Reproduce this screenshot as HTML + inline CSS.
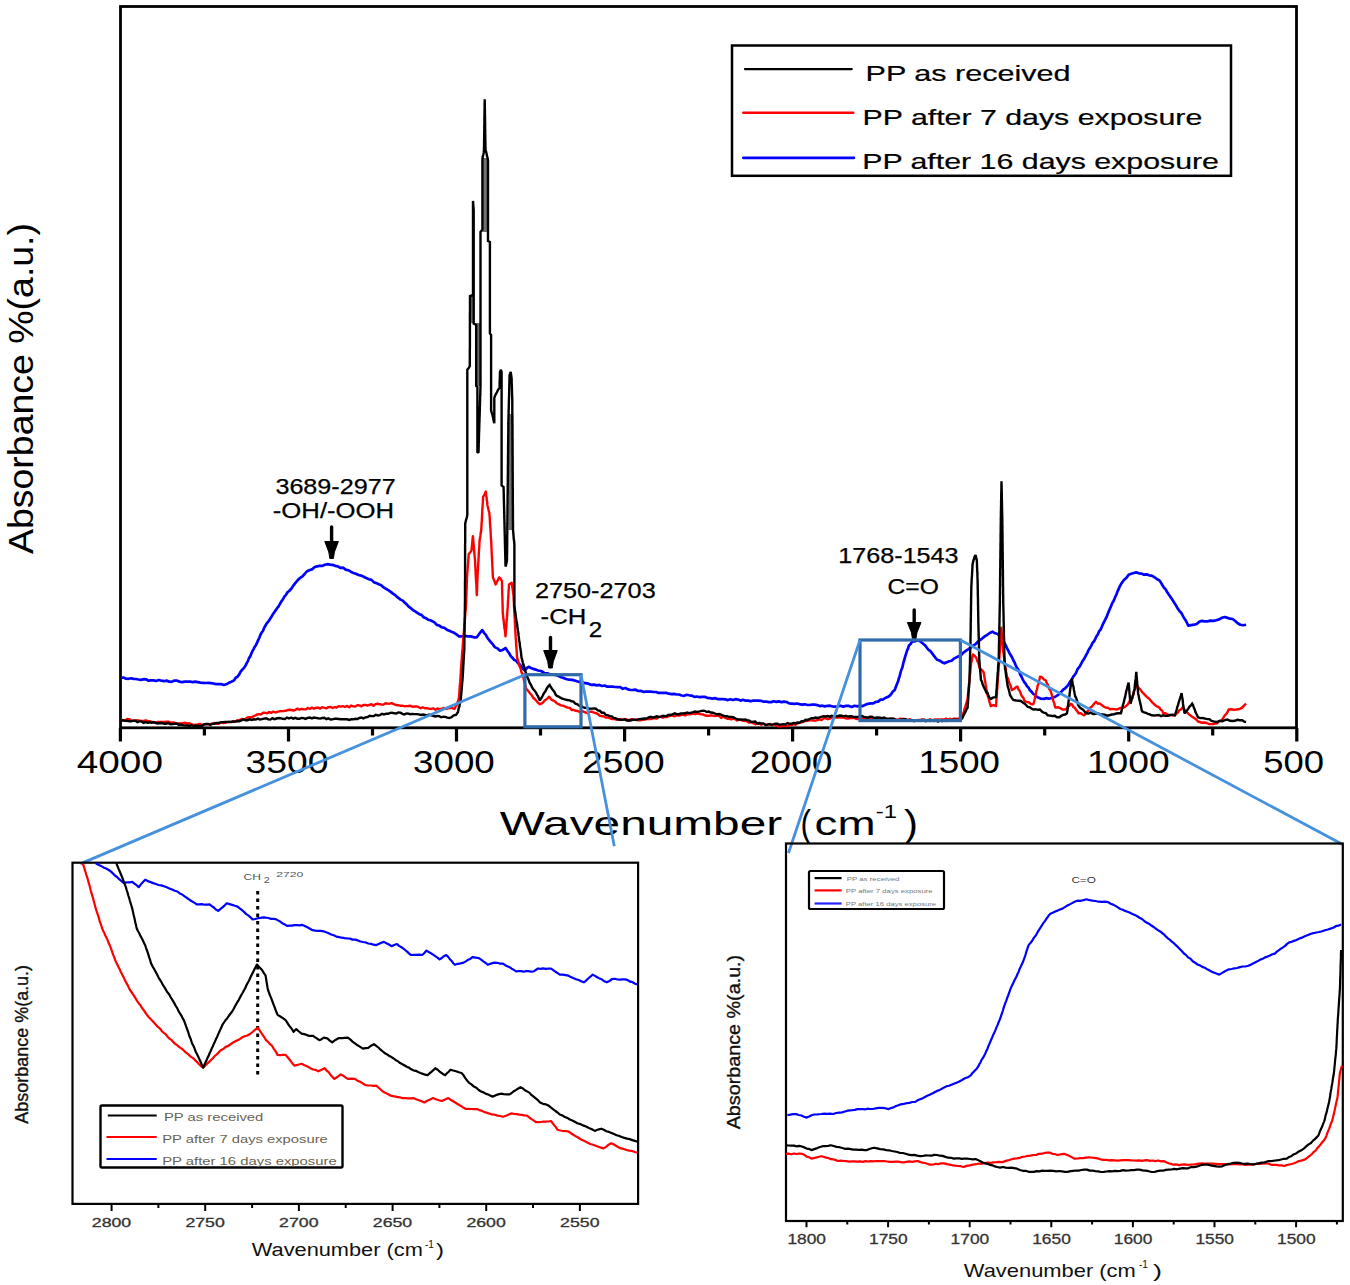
<!DOCTYPE html>
<html><head><meta charset="utf-8"><title>FTIR</title>
<style>
html,body{margin:0;padding:0;background:#fff;width:1350px;height:1285px;overflow:hidden;}
svg{display:block;}
text{font-family:"Liberation Sans",sans-serif;}
</style></head>
<body>
<svg width="1350" height="1285" viewBox="0 0 1350 1285">
<rect x="120.5" y="6.5" width="1176" height="721.3" fill="none" stroke="#000" stroke-width="2.8"/>
<path d="M120.4,728 V741.5 M204.4,728 V735.5 M288.5,728 V741.5 M372.5,728 V735.5 M456.5,728 V741.5 M540.5,728 V735.5 M624.6,728 V741.5 M708.6,728 V735.5 M792.6,728 V741.5 M876.6,728 V735.5 M960.6,728 V741.5 M1044.7,728 V735.5 M1128.7,728 V741.5 M1212.7,728 V735.5 M1296.8,728 V741.5" stroke="#000" stroke-width="3.2" fill="none"/>
<text x="76.7" y="772.8" font-size="30.5" fill="#000" textLength="86.3" lengthAdjust="spacingAndGlyphs">4000</text>
<text x="245.6" y="772.8" font-size="30.5" fill="#000" textLength="82.9" lengthAdjust="spacingAndGlyphs">3500</text>
<text x="413" y="772.8" font-size="30.5" fill="#000" textLength="81.8" lengthAdjust="spacingAndGlyphs">3000</text>
<text x="582" y="772.8" font-size="30.5" fill="#000" textLength="82.8" lengthAdjust="spacingAndGlyphs">2500</text>
<text x="749.8" y="772.8" font-size="30.5" fill="#000" textLength="82.7" lengthAdjust="spacingAndGlyphs">2000</text>
<text x="918.4" y="772.8" font-size="30.5" fill="#000" textLength="81.6" lengthAdjust="spacingAndGlyphs">1500</text>
<text x="1086.9" y="772.8" font-size="30.5" fill="#000" textLength="82.9" lengthAdjust="spacingAndGlyphs">1000</text>
<text x="1263.2" y="772.8" font-size="30.5" fill="#000" textLength="60.9" lengthAdjust="spacingAndGlyphs">500</text>
<text x="499.8" y="834.8" font-size="34" fill="#000" textLength="282.4" lengthAdjust="spacingAndGlyphs">Wavenumber</text>
<text x="800.5" y="836" font-size="36" fill="#000" textLength="10.5" lengthAdjust="spacingAndGlyphs">(</text>
<text x="814.6" y="834.8" font-size="34" fill="#000" textLength="61" lengthAdjust="spacingAndGlyphs">cm</text>
<text x="875.8" y="817.5" font-size="19" fill="#000" textLength="21.2" lengthAdjust="spacingAndGlyphs">-1</text>
<text x="904" y="836" font-size="36" fill="#000" textLength="14" lengthAdjust="spacingAndGlyphs">)</text>
<text transform="translate(32.7,554) rotate(-90)" font-size="35.5" textLength="331" lengthAdjust="spacingAndGlyphs">Absorbance %(a.u.)</text>
<rect x="732" y="45.5" width="499" height="130.3" fill="#fff" stroke="#000" stroke-width="2.5"/>
<path d="M745,69.1 H851.7" stroke="#000" stroke-width="2.3" stroke-linecap="round"/>
<path d="M743.3,112.8 H853.3" stroke="#f00" stroke-width="2.4" stroke-linecap="round"/>
<path d="M743.3,157.8 H853.9" stroke="#00f" stroke-width="2.7" stroke-linecap="round"/>
<text x="865.6" y="80.6" font-size="21.5" fill="#000" textLength="205" lengthAdjust="spacingAndGlyphs" stroke="#000" stroke-width="0.2">PP as received</text>
<text x="862.6" y="124.6" font-size="21.5" fill="#000" textLength="339.7" lengthAdjust="spacingAndGlyphs" stroke="#000" stroke-width="0.2">PP after 7 days exposure</text>
<text x="862.2" y="169.2" font-size="21.5" fill="#000" textLength="356.8" lengthAdjust="spacingAndGlyphs" stroke="#000" stroke-width="0.2">PP after 16 days exposure</text>
<path d="M482.4,158 H488 V232 H482.4 Z M475,323 H481 V386 H475 Z M470.5,296 H473.7 V323 H470.5 Z M508.5,414 H513.4 V530 H508.5 Z" fill="#707070"/>
<path d="M121,677.8 L123.5,677.5 L126,678.7 L128.5,678.8 L131,678.3 L133.5,678.9 L136,679 L138.5,679.5 L141,679.9 L143.5,679.2 L146,679.3 L148.5,680.7 L151,680.4 L153.6,680.4 L156.2,681 L158.8,680 L161.4,680.7 L164,681.2 L166.6,680.6 L169.2,681.7 L171.8,681.8 L174.4,680.6 L177,680.7 L179.6,681.6 L182.2,682.2 L184.8,681.7 L187.4,681.7 L190,681.6 L192.6,682.1 L195.2,681.7 L197.8,682.1 L200.4,682.6 L203,682.8 L205.6,683 L208.2,682.9 L210.8,683.2 L213.4,683.5 L215.9,684.1 L218.5,684.1 L221.1,684 L223.7,685 L226.3,684.3 L228.8,682.8 L231.4,681.7 L234,680.4 L235.7,677.8 L237.5,676.8 L239.2,674.4 L240.9,671.2 L242.7,669.3 L244.4,667.4 L245.6,665.4 L246.7,663.1 L247.9,661.1 L249,658.1 L250.2,656.4 L251.3,653.8 L252.5,651 L253.6,649.1 L254.8,646.7 L256,644.9 L257.1,642.6 L258.3,639.8 L259.4,637.6 L260.6,634.5 L261.7,632.5 L262.9,631 L264,628.2 L265.2,626 L266.7,623.3 L268.2,621.6 L269.7,619.6 L271.1,617.3 L272.6,614.7 L274.1,612.5 L275.6,610.4 L277.1,608.2 L278.6,606.3 L280.1,603.7 L281.5,601.3 L283,599.2 L284.5,596.4 L286,594.8 L287.7,592 L289.4,590.8 L291.1,589 L292.9,586.3 L294.6,583.9 L296.3,581.9 L298.4,579.4 L300.5,577.7 L302.5,576.3 L304.6,574 L306.7,571.5 L309.3,570.3 L311.9,569.4 L314.4,567.2 L317,566.3 L319.6,565.8 L322.2,565.9 L324.8,564.8 L327.4,564.2 L330,564.7 L332.6,564.9 L335.2,565.8 L337.8,566.3 L340.4,567.9 L343,567.6 L345.6,569.6 L348.2,570.2 L350.8,571.7 L353.4,572.9 L355.9,573.8 L358.5,575 L361.1,575.6 L363.7,576.7 L366.3,578.1 L368.9,579.2 L371.5,579.9 L374.1,582.4 L376.7,583.2 L379.3,584.4 L381.5,585.5 L383.7,587.4 L385.9,588.8 L388.2,590.1 L390.4,591.6 L392.6,593.4 L394.8,594.8 L396.8,596.6 L398.7,598.2 L400.6,599.6 L402.6,600.6 L404.6,602.5 L406.5,604.1 L408.4,606.3 L410.4,607.8 L412.6,609.8 L414.8,611.2 L417,612.7 L419.3,614.2 L421.5,614.9 L423.7,617.2 L425.9,618.2 L428.1,619.7 L430.4,620.2 L432.6,621.4 L434.8,622.7 L437,625 L439.3,625.6 L441.5,627.2 L444.3,627.9 L447.2,629.9 L450,631 L452.2,632.1 L454.5,633.1 L456.8,634.6 L459,636.4 L462,636.4 L464.9,635.9 L467.9,636.4 L470.9,636.4 L473.8,637.3 L476.8,637.3 L478.6,634.8 L480.4,632.3 L482.2,630.1 L484,632.8 L485.8,634.8 L487.6,638.2 L489.4,640.3 L491.1,642.5 L492.9,644.4 L494.7,647.1 L497.4,648.4 L500.1,650.7 L502.8,649.9 L505.5,648 L507.3,650.7 L509,653 L510.8,656.1 L512.6,658 L514.4,660.1 L516.2,660.8 L518,663.2 L519.7,664.4 L521.5,666.4 L523.2,669 L524.9,670.5 L526.8,668.2 L528.7,666.8 L531,668 L533.4,668.9 L535.7,669.6 L538,670.5 L541.1,671 L544.3,673 L547.4,673.3 L550.2,674.4 L553,674.7 L555.8,675 L558.6,676.1 L561.1,677.3 L563.5,677.9 L566,679 L569.1,679.7 L572.3,679.9 L575.4,680.8 L578.5,681.8 L581.6,681.8 L584.7,683.2 L587.8,683.4 L590.9,684.8 L594,684.6 L596.7,685.4 L599.3,684.9 L602,686 L604.6,685.5 L607.3,686.7 L609.9,686.7 L612.6,686.7 L615.2,687 L617.7,687.1 L620.3,687.2 L622.8,688.8 L625.4,688 L627.9,689.4 L630.5,690 L633,689.9 L635.6,689.7 L638.1,691 L640.7,690.9 L643.3,691.8 L645.8,691.7 L648.4,691.7 L651,691.7 L653.5,692 L656.1,692 L658.6,692.9 L661.2,692.8 L663.8,692.8 L666.3,692.9 L668.9,693.7 L671.5,694.2 L674,693.9 L676.6,694.5 L679.1,694.5 L681.7,695.5 L684.2,695.8 L686.8,694.8 L689.3,695.3 L691.9,695.7 L694.4,696.9 L697,696.5 L699.6,697.2 L702.1,696.8 L704.7,696.9 L707.3,697.8 L709.8,698.2 L712.4,698.6 L714.9,698.1 L717.5,699.1 L720.1,699.1 L722.6,699 L725.2,699.3 L727.8,700.1 L730.3,699.2 L732.9,700 L735.4,699.2 L738,699.5 L740.5,700.6 L743.1,699.8 L745.6,700.7 L748.2,700.6 L750.7,701.1 L753.3,700.7 L755.9,700.6 L758.4,700.7 L761,700.8 L763.6,701.7 L766.1,701.5 L768.7,702.1 L771.2,702.1 L773.8,701.2 L776.4,701.9 L778.9,701.4 L781.5,702.1 L784.1,701.7 L786.6,702 L789.2,703.4 L791.7,703.6 L794.3,703.9 L796.8,703.5 L799.4,704.1 L801.9,704.6 L804.5,704.3 L807,704.8 L809.6,705 L812.2,704.7 L814.7,704.7 L817.3,705.1 L819.8,706.1 L822.4,705.7 L824.9,706.4 L827.5,705.8 L830,705.7 L832.6,706.5 L835.1,706.7 L837.7,706.4 L840.5,705.7 L843.3,706.6 L846.1,705.8 L849,705.9 L851.8,706.9 L854.6,705.8 L857.4,706.4 L860,705.5 L862.7,706.1 L865.3,704.7 L868,703.8 L870.6,703.4 L873.3,703.3 L875.7,701.9 L878.1,701.6 L880.5,699.6 L882.8,699.7 L885.2,698 L887.6,697.1 L889.4,696 L891.2,694.1 L892.9,691.5 L894.7,690 L895.9,686.7 L897,684 L898.2,681.1 L898.9,678.1 L899.6,676.4 L900.4,673 L901.1,670.5 L901.8,668.7 L902.5,666.9 L903.2,663.4 L903.9,661.3 L904.6,658.6 L905.3,656.2 L906.2,653.3 L907.1,650.3 L908,648.8 L908.9,645.6 L910.6,644 L912.4,641.1 L915.1,641.3 L917.8,640.2 L920.5,641.5 L923.1,643.8 L924.9,645.2 L926.7,647.5 L928.4,649.8 L930.2,650.9 L932,653.2 L933.8,655.6 L935.5,657.8 L937.3,659.8 L939.7,660.6 L942,662.2 L944.4,663.3 L946.8,662.2 L949.2,661.2 L951.6,660.7 L954,658.6 L956.3,657.4 L958.7,656.2 L961.1,655.1 L963.4,652.6 L965.8,650.9 L968.2,649.3 L970.5,647.6 L972.9,645.6 L975.3,644.4 L977.6,641.8 L980,640.2 L982.4,638.2 L984.7,636.4 L987.1,634.9 L989.8,633 L992.4,631.7 L995.1,633.3 L997.8,634 L999.6,636.6 L1001.3,637.9 L1003.1,640.2 L1004.4,642.6 L1005.8,645.6 L1007.1,648.3 L1008.4,650.9 L1009.6,653.4 L1010.8,655.3 L1012,657.3 L1013.2,660 L1014.4,662.1 L1015.6,665.1 L1016.8,667.5 L1018,669.2 L1019.2,671.6 L1020.3,674.8 L1021.5,676.6 L1022.7,679.3 L1024.1,681.8 L1025.5,683.6 L1027,686.2 L1028.4,687.4 L1029.8,690 L1031.6,691.8 L1033.3,694 L1035.1,694.7 L1036.9,697.1 L1040.5,698.6 L1044,698.9 L1046.5,698.1 L1049.1,698.7 L1051.6,698 L1054.2,697.3 L1056.7,695.8 L1059.3,694 L1061.2,691.8 L1063.2,689.6 L1065.1,688.3 L1067,686.4 L1068.5,684.7 L1070.1,681.5 L1071.6,680 L1073.2,676.6 L1074.7,674.8 L1076,673.1 L1077.3,669.6 L1078.6,667.8 L1079.8,666.4 L1081.1,664 L1082.4,661.3 L1083.7,659.6 L1084.9,657.3 L1086.2,654.9 L1087.5,652.6 L1088.7,649.7 L1090,647.9 L1091.3,645.6 L1092.6,642.9 L1093.9,641.5 L1095.2,639.1 L1096.5,636.3 L1097.8,634.4 L1099.1,631.2 L1100.4,629.9 L1101.7,627.1 L1102.9,624.2 L1104.2,621.6 L1105.5,619 L1106.6,617 L1107.7,614 L1108.8,611.4 L1109.9,608.8 L1111,606.2 L1112.1,603.4 L1113.2,601.6 L1114.3,599.3 L1115.4,596.5 L1116.5,594.3 L1117.6,591.1 L1118.7,589 L1119.8,586.3 L1120.9,584.3 L1122.8,581.4 L1124.8,579.2 L1126.7,577.6 L1128.6,574.7 L1131.2,573.8 L1133.7,573 L1136.3,572.4 L1138.9,573.3 L1141.4,573.6 L1144,574.7 L1146.6,574.3 L1149.1,575.3 L1151.7,575.6 L1154.3,577.2 L1156.8,579 L1159.4,580.4 L1160.9,582.6 L1162.5,585.3 L1164,587.7 L1165.6,589.3 L1167.1,592 L1168.6,594.3 L1170.2,596.6 L1171.7,598.6 L1173.3,601.2 L1174.8,603.6 L1176.3,606 L1177.9,608.8 L1179.4,611.1 L1181,612.5 L1182.5,615.1 L1184,618 L1185.4,619.8 L1186.8,622.5 L1188.3,625.7 L1191.2,625.2 L1194.1,624.7 L1196.7,624 L1199.2,621.7 L1201.8,620.9 L1204.7,621.3 L1207.5,621.4 L1210.4,620.6 L1213.3,620.9 L1216.2,620.2 L1219.1,619.4 L1222,617.8 L1224.9,617 L1227.5,617.9 L1230,618.7 L1232.6,619 L1235.2,621 L1237.7,623.3 L1240.3,624.7 L1243.2,625.3 L1246.1,624.7" fill="none" stroke="#00f" stroke-width="2.7" stroke-linejoin="round"/>
<path d="M121,719.3 L123.1,720.3 L125.1,720.4 L127.2,718.9 L129.2,719.1 L131.3,720.6 L133.3,720.6 L135.4,720.6 L137.4,720.1 L139.5,720.8 L141.5,720.9 L143.6,721 L145.6,720.4 L147.7,721 L149.7,721.1 L151.8,721.8 L153.8,722.5 L155.9,722.5 L157.9,721.9 L160,722 L162.1,722 L164.2,721.9 L166.3,721.6 L168.4,721.7 L170.5,722.6 L172.6,722.5 L174.7,722.8 L176.8,723.8 L178.9,723.3 L181,723.5 L183.1,723.1 L185.2,722.8 L187.3,723.5 L189.4,723.3 L191.5,724.1 L193.6,725.1 L195.7,724.7 L197.8,724.5 L199.9,723.8 L202,724.9 L204.1,724.5 L206.2,724.3 L208.3,724.4 L210.4,724 L212.5,723.9 L214.7,722.9 L216.8,723.9 L218.9,723.7 L221,722.1 L223.1,723 L225.2,722.8 L227.3,722.2 L229.4,722.1 L231.5,721.9 L233.5,721.3 L235.5,721.6 L237.4,720.3 L239.4,720.4 L241.4,719 L243.4,719.4 L245.4,718.9 L247.4,717.5 L249.3,717.2 L251.3,717.3 L253.3,716.4 L255.3,715.5 L257.3,714.4 L259.3,714.1 L261.2,714.2 L263.2,712.7 L265.2,712.8 L267.2,713.3 L269.2,711.9 L271.2,712.9 L273.3,711.6 L275.3,712.5 L277.3,711.9 L279.3,711.3 L281.3,711.1 L283.4,711.1 L285.4,710.8 L287.4,710.1 L289.4,709.7 L291.4,710 L293.4,710.5 L295.4,709.8 L297.5,708.6 L299.5,709.7 L301.5,708.9 L303.6,709.2 L305.6,709.4 L307.7,708 L309.8,708.9 L311.9,707.6 L313.9,708.6 L316,707.8 L318.1,707.6 L320.1,708.6 L322.2,707.2 L324.3,707.8 L326.4,708.3 L328.4,707.1 L330.5,706.9 L332.6,708 L334.7,707.1 L336.7,707.5 L338.8,706.2 L340.9,706.7 L342.9,706.2 L345,707 L347.1,705.9 L349.2,707.3 L351.2,705.5 L353.3,706.3 L355.3,706.6 L357.3,705.1 L359.4,705.4 L361.4,706.3 L363.4,705 L365.4,704.9 L367.4,705.6 L369.4,704.9 L371.5,704.2 L373.5,705.7 L375.5,704.1 L377.5,703.7 L379.5,704.1 L381.5,704.5 L383.6,704.6 L385.6,703.3 L387.6,703.6 L389.6,703.7 L391.7,703.1 L393.8,704.1 L395.8,705 L397.9,705.2 L400,705.7 L402.1,705.7 L404.1,706.2 L406.2,706.1 L408.3,706 L410.4,705.8 L412.4,706.8 L414.5,706.5 L416.6,706.4 L418.7,707.2 L420.7,708.3 L422.8,707.2 L424.9,708.3 L427,708.2 L429,708.7 L431.1,708.9 L433.2,708.3 L435.4,709.7 L437.5,708.5 L439.6,709.1 L441.7,708.8 L443.9,708 L446,709 L448.1,708.3 L450.2,708.1 L452.4,708.1 L454.5,708.9 L455.8,706.3 L457,705 L457.5,702.3 L458,701.3 L458.5,699.2 L459,697.2 L459.1,696.1 L459.3,694 L459.4,692.1 L459.6,688.7 L459.7,687.1 L459.9,684.7 L460,683.3 L460.2,681.4 L460.3,679.7 L460.5,677.5 L460.6,674.7 L460.8,673 L460.9,671.1 L461,668.2 L461.2,666.2 L461.3,664.9 L461.5,662.4 L461.6,661.5 L461.8,658.6 L461.9,656.3 L462.1,654.5 L462.2,652.5 L462.4,650.5 L462.5,649 L462.7,647 L462.8,644.9 L463,642.5 L463.2,641.1 L463.3,638.3 L463.5,637.5 L463.6,635.6 L463.8,633.1 L464,630.6 L464.1,628.7 L464.3,626.7 L464.5,623.8 L464.6,622.4 L464.8,620.5 L465,617.9 L465.1,615.7 L465.3,614.9 L465.4,612.1 L465.6,610.3 L465.8,609 L465.9,606.4 L466.1,604.2 L466.2,601.8 L466.2,600.9 L466.3,597.8 L466.4,595.1 L466.4,594.2 L466.5,591.1 L466.6,589.4 L466.7,588.3 L466.7,586 L466.8,582.7 L466.9,581.4 L466.9,579.3 L467,577.4 L467.2,575.2 L467.3,572.6 L467.5,571.2 L467.7,568.1 L467.8,566.4 L468,564.4 L468.1,563.3 L468.3,559.6 L468.5,558.7 L468.6,555.6 L468.8,554 L470.1,552.4 L471.5,550.5 L471.7,548.3 L471.9,546.3 L472.1,544.8 L472.3,542.1 L472.5,539.6 L472.7,537.6 L472.9,536.2 L473.1,537.6 L473.3,541.1 L473.5,542.8 L473.7,545.5 L473.9,547.1 L474,548.1 L474.2,551.3 L474.4,553.6 L474.6,555.7 L474.8,557.4 L475,559.5 L475.1,561.3 L475.2,563.6 L475.3,566.3 L475.4,567.5 L475.5,570 L475.6,572.1 L475.7,575 L475.8,576.8 L476,579.2 L476.1,581.1 L476.2,582.2 L476.3,584.2 L476.4,586.8 L476.5,588.5 L476.6,590.9 L476.7,593.4 L476.8,595.2 L476.9,593.8 L477,591.1 L477.1,589.4 L477.2,585.9 L477.2,584.2 L477.3,583.3 L477.4,579.6 L477.5,577.9 L477.6,575.2 L477.7,573.8 L477.8,571 L477.9,570.5 L478,568.6 L478.1,566 L478.3,563.1 L478.4,561.4 L478.5,559.2 L478.6,558 L478.7,556 L478.8,553.6 L478.9,551.7 L479.1,549 L479.2,547.7 L479.3,546.4 L479.4,544.1 L479.5,541.6 L479.8,538.8 L480.1,537.4 L480.4,535.7 L480.7,532.8 L481,531.8 L481.3,529 L481.4,526.9 L481.5,525.3 L481.6,522.8 L481.8,521.8 L481.9,519.4 L482,517.1 L482.1,514.3 L482.2,512.8 L482.3,510 L482.4,509 L482.5,507.5 L482.7,504.3 L482.8,502.9 L482.9,500.8 L483,498.6 L483.1,496.8 L484.5,494.5 L485.8,491.5 L486.1,494.3 L486.3,496 L486.6,497.6 L486.8,500.5 L487.1,501.4 L487.3,504.2 L487.6,505.8 L488.2,508.5 L488.8,511.1 L489.4,513 L489.5,515.7 L489.7,516.6 L489.8,519.3 L489.9,521 L490,523.5 L490.2,526.1 L490.3,527.5 L490.4,528.5 L490.6,531.3 L490.7,533.8 L490.8,536.2 L490.9,537.8 L491.1,540.1 L491.2,541.6 L491.3,542.8 L491.4,546.6 L491.5,548.3 L491.6,550.2 L491.7,552.9 L491.8,554.9 L491.9,555.6 L492,559 L492.1,561 L492.2,562.1 L492.3,565.2 L492.4,567 L492.5,568.4 L492.6,571.6 L492.7,572.5 L492.8,575.5 L492.9,577.4 L493.8,579.6 L494.7,581.7 L495.6,584.5 L496.8,582.3 L498,579.7 L499.2,577.4 L500.5,578.7 L501.9,581 L502,583.8 L502,584.2 L502.1,586.1 L502.1,589 L502.2,591.6 L502.2,593.3 L502.3,595.5 L502.4,597 L502.4,599.4 L502.5,600.8 L502.5,602.6 L502.6,605.1 L502.6,606.2 L502.7,608.3 L502.7,611.6 L502.8,613.1 L503,614.6 L503.3,617.8 L503.5,620 L503.8,621.4 L504,624 L504.3,626.3 L504.5,628.6 L504.8,629.4 L505,631.6 L505.3,634.1 L505.5,636.4 L505.7,634.2 L505.8,631.8 L506,629.2 L506.2,628 L506.3,626.6 L506.5,623.5 L506.6,621.6 L506.8,619.2 L507,617.2 L507.1,615.9 L507.3,613.1 L507.4,610.7 L507.5,609.3 L507.7,606.9 L507.8,605 L507.9,603.6 L508,600.1 L508.1,599.4 L508.3,596.4 L508.4,595 L508.5,593.2 L508.6,590.9 L508.8,588.4 L508.9,587.2 L509,584.5 L511.7,582.7 L512,584.1 L512.3,587.1 L512.6,588.8 L512.9,591.1 L513.2,593.7 L513.5,595.2 L513.6,597.8 L513.7,599.6 L513.8,601.2 L513.9,603.1 L514,605.7 L514.1,607.4 L514.2,609.5 L514.3,612.9 L514.5,613.5 L514.6,616.8 L514.7,618.1 L514.8,620.2 L514.9,622.2 L515,623.9 L515.1,626.7 L515.2,628.3 L515.3,631 L515.4,633 L515.6,634.8 L515.7,637.9 L515.9,640 L516,641.2 L516.1,643.7 L516.3,646.3 L516.4,647.2 L516.5,648.9 L516.7,651.2 L516.8,653.2 L517,656.2 L517.1,657.9 L517.8,659.9 L518.5,662.1 L519.1,665.1 L519.8,666.8 L520.6,668.6 L521.4,672 L522.2,673.9 L523,676 L523.5,678 L524.1,680.8 L524.6,682.1 L525.2,685.2 L525.8,687.4 L526.3,688.8 L528,690.8 L529.8,693.1 L531.5,694.8 L533,697.5 L534.6,699 L536.1,700.4 L538,702.8 L539.9,704.2 L541.5,703.6 L543,702.5 L544.6,700.4 L546.9,699 L549.2,696.7 L551.1,699.4 L553,700.4 L554.9,701.3 L556.7,703.2 L558.6,704.2 L561.1,705.4 L563.5,705.8 L566,707 L567.9,707.6 L569.8,707.9 L571.6,710 L573.5,709.7 L575.4,710.7 L577.7,711 L580,712.1 L582.4,711.2 L584.7,712.1 L587,713.1 L589.4,711.7 L591.7,711.6 L594,712.6 L595.9,713.1 L597.8,713.8 L599.6,715.6 L601.5,716.2 L603.4,716.3 L605.7,717.5 L608,717.6 L610.4,718.5 L612.7,719.1 L614.7,718.7 L616.7,719.9 L618.7,719.2 L620.7,719.1 L622.7,719.8 L624.7,719 L626.7,719.4 L628.7,720.6 L630.7,719.2 L632.7,719.4 L634.7,719.6 L636.7,719.8 L638.7,720.2 L640.7,720.4 L642.7,719.7 L644.7,719.5 L646.7,719 L648.8,718.7 L650.8,719.1 L652.8,718.3 L654.8,718.1 L656.8,718.5 L658.8,716.9 L660.8,716.8 L662.9,717.7 L664.9,716.7 L666.9,717 L668.9,716.2 L670.9,715.3 L672.9,715.8 L674.9,716.2 L676.9,715.1 L678.9,715.7 L680.9,715.2 L683,714.6 L685,715.5 L687,714.2 L689,714.2 L691,714.2 L693,713.5 L695,714.2 L697,713.4 L699,713.9 L701,714.2 L703,714.4 L705.1,715.5 L707.1,715.8 L709.1,715.8 L711.1,715.4 L713.1,715.6 L715.1,716.1 L717.1,715.6 L719.2,716 L721.2,717.9 L723.2,716.6 L725.2,717.6 L727.2,718.8 L729.2,718.7 L731.2,719.5 L733.2,718.4 L735.2,719.3 L737.2,720.5 L739.2,719.5 L741.3,720.1 L743.3,720.9 L745.3,721 L747.3,721.4 L749.3,722.7 L751.3,722.1 L753.3,723.2 L755.3,724.2 L757.3,723.9 L759.3,723 L761.4,724.7 L763.4,723.7 L765.4,724.4 L767.4,724.7 L769.4,724.1 L771.4,725 L773.4,724.4 L775.5,724.9 L777.5,726.4 L779.5,726.4 L781.5,726 L783.5,725.9 L785.5,726 L787.5,726.1 L789.5,724.6 L791.5,725.1 L793.5,724.2 L795.5,724.7 L797.5,723.4 L799.5,722.8 L801.5,722.3 L803.6,721.4 L805.6,721.1 L807.6,720.8 L809.6,720.4 L811.6,720.4 L813.6,720.6 L815.6,720.5 L817.6,720 L819.6,719.4 L821.6,720 L823.7,718.4 L825.7,718.1 L827.7,719.2 L829.7,718.6 L831.7,717.7 L833.7,717.8 L835.7,717.4 L837.7,717.6 L839.7,717.5 L841.7,717.6 L843.7,717.6 L845.8,718.4 L847.8,718.5 L849.8,718.1 L851.8,718 L853.8,717.7 L855.8,718.7 L857.8,719.1 L859.9,717.8 L861.9,718.8 L863.9,718.8 L865.9,718.8 L867.9,717.8 L869.9,718.8 L871.9,718.2 L874,718.2 L876,719 L878,719.2 L880,719 L882,719.3 L884,719.5 L886,719.5 L888,719.2 L890,718.4 L892,719.8 L894,719.9 L896,720 L898,719.6 L900,718.7 L902,719 L904,718.9 L906,719.9 L908,719.8 L910,719.2 L912,720.6 L914,720.7 L916,720.6 L918,719.9 L920,720 L922,719.6 L924,719.4 L926,720.4 L928,720.2 L930,719.3 L932,720.4 L934,719.8 L936,719.4 L938,719.4 L940,719.9 L942,719.3 L944,719.7 L946,718.6 L948,719.6 L950,718.8 L952,719.9 L954,718.6 L956,718.8 L958,719 L960.1,717.9 L962.2,716.7 L962.8,714.5 L963.4,712.8 L964,711.5 L964.6,708.3 L965.2,707.3 L965.8,705.2 L966.4,703.4 L967,700.8 L967.6,698.9 L967.8,696.7 L968,694.4 L968.2,692.6 L968.4,690.1 L968.6,687.9 L968.8,686.3 L969,683.7 L969.2,682.1 L969.5,680.2 L969.7,677.6 L969.9,675.3 L970.1,674 L970.3,672.3 L970.5,669.1 L970.7,667.7 L970.9,665.7 L971.1,663.3 L971.5,661.8 L972,659.2 L972.5,656.3 L972.9,654.4 L974.6,655.7 L976.4,658 L977.1,660.7 L977.8,661.9 L978.6,663.5 L979.3,667.2 L980,668.7 L981.8,669.9 L983.6,672.2 L984,674 L984.3,676.2 L984.6,678.2 L985,681.2 L985.4,682.6 L985.7,684.9 L986.1,687 L986.4,689.9 L986.8,690.6 L987.1,693.6 L987.7,695.8 L988.3,697.1 L988.9,699.2 L989.5,702.1 L990.1,703.7 L990.7,706 L993.4,705.2 L996,706 L996.1,704.1 L996.3,702.6 L996.4,700.1 L996.6,697.7 L996.7,696.2 L996.9,694.4 L997,690.9 L997.2,689.1 L997.3,688.3 L997.4,686.1 L997.6,682.8 L997.7,681.6 L997.9,679.8 L998,677.3 L998.2,675.4 L998.3,673 L998.4,670.4 L998.6,668.3 L998.7,666 L998.9,665 L999,662 L999.2,660.8 L999.3,658.3 L999.5,656.3 L999.6,654.4 L999.7,653.2 L999.9,650.1 L1000,648.2 L1000.1,646 L1000.3,643.7 L1000.4,641.6 L1000.5,640.1 L1000.6,638.6 L1000.8,635.2 L1000.9,634.7 L1001,632.2 L1001.2,629 L1001.3,627.8 L1001.5,630.3 L1001.6,631.8 L1001.8,634.1 L1002,635.5 L1002.1,638.3 L1002.3,640.4 L1002.4,643 L1002.6,644.7 L1002.8,647.1 L1002.9,649.2 L1003.1,650.9 L1003.4,652.5 L1003.7,654.2 L1004,657.1 L1004.3,658.5 L1004.6,660.6 L1004.9,663 L1005.2,665.5 L1005.5,667.7 L1005.8,669.8 L1006.1,672.4 L1006.4,673 L1006.7,675.8 L1007.5,677.9 L1008.2,679.1 L1009,682.2 L1009.7,683.8 L1010.5,685.3 L1011.2,687.6 L1012,690 L1013.8,689.1 L1015.5,687.6 L1017.3,686.4 L1018.3,689.2 L1019.3,690.2 L1020.3,692.2 L1021.4,695.3 L1022.4,696.8 L1023.4,697.9 L1024.4,700.7 L1026.6,702.1 L1028.8,702.2 L1031.1,704.1 L1033.3,704.2 L1033.8,702.5 L1034.3,700.8 L1034.7,699 L1035.2,696.4 L1035.7,695.2 L1036.2,691.6 L1036.7,690.2 L1037.1,689.1 L1037.6,685.6 L1038.1,684.9 L1038.6,683.5 L1039,681 L1039.5,679.3 L1040,676.7 L1041.9,677.2 L1043.9,679.4 L1045.8,680.6 L1046.6,682.7 L1047.5,684.3 L1048.3,686.2 L1049.1,688.8 L1049.9,689.6 L1050.8,691.3 L1051.6,694 L1052.1,696.1 L1052.7,698.7 L1053.2,700.4 L1053.8,702.1 L1054.3,703.3 L1054.9,706.4 L1055.4,707.6 L1057.8,707.2 L1060.2,708.1 L1062.6,709.5 L1065,709.5 L1066.5,708.8 L1067.9,706.4 L1069.3,705.9 L1070.8,703.7 L1072.1,704.6 L1073.4,707.1 L1074.7,707.7 L1075.9,709.6 L1077.2,711.1 L1078.5,713.3 L1080.4,713.1 L1082.4,714.5 L1084.3,715.3 L1085.8,713.6 L1087.2,711.5 L1088.7,710.5 L1090.1,707.7 L1091.5,706.9 L1093,705.2 L1094.5,703.3 L1095.9,701.8 L1097.8,703.7 L1099.7,703.4 L1101.7,705.1 L1103.6,706.4 L1105.5,707.6 L1107.8,707.8 L1110.1,709.2 L1112.4,708.9 L1114.7,709.1 L1117,709.5 L1118.9,708.6 L1120.9,707.8 L1122.8,708 L1124.8,706.9 L1126.7,705.6 L1128.1,703.9 L1129.6,701.1 L1131,700 L1132.4,697.9 L1133.1,695 L1133.7,693.2 L1134.3,690.3 L1135,689.3 L1135.7,687.6 L1136.3,684.5 L1137.8,686.7 L1139.2,688.5 L1140.6,689.8 L1142.1,692.2 L1143.7,693.7 L1145.3,695.3 L1146.9,696.9 L1148.5,698.2 L1150.1,699.7 L1151.7,701.8 L1153.6,703.7 L1155.6,705.5 L1157.5,706.7 L1159.4,707.6 L1160.7,709.7 L1162,710.6 L1163.3,713.3 L1165.6,713.3 L1167.9,714.7 L1170.2,715.4 L1172.5,715 L1174.8,715.3 L1176.3,713.9 L1177.9,712.6 L1179.4,710.2 L1181,709.5 L1182.5,707.6 L1184,708.9 L1185.6,711.3 L1187.1,712.2 L1188.7,714.1 L1190.2,715.3 L1192.1,716.7 L1194.1,718 L1196,719.2 L1198,721.5 L1199.9,722 L1202.1,722.8 L1204.4,722.5 L1206.6,723 L1208.8,724 L1211.1,724.1 L1213.3,724 L1215.2,723.5 L1217.2,723.3 L1219.1,721.1 L1221,721 L1222.3,719.3 L1223.6,717.4 L1224.8,715.2 L1226.1,714.2 L1227.4,712.3 L1228.7,709.5 L1231.3,709.3 L1233.9,709.7 L1236.5,709.5 L1238.4,709.3 L1240.3,708.6 L1242.2,707.6 L1244.2,705.4 L1246.1,703.7" fill="none" stroke="#f00" stroke-width="2.4" stroke-linejoin="round"/>
<path d="M121,720.6 L123.1,720.3 L125.1,720.9 L127.2,720.8 L129.2,721.3 L131.3,721.4 L133.3,720.7 L135.4,720.7 L137.4,722.2 L139.5,721.4 L141.5,721.4 L143.6,722.8 L145.6,722.1 L147.7,722.8 L149.7,722.3 L151.8,722.7 L153.8,722.1 L155.9,723 L157.9,723.5 L160,723 L162.1,723.2 L164.2,723.7 L166.3,723.7 L168.4,722.9 L170.5,724.2 L172.6,724.1 L174.7,723.8 L176.8,723.5 L178.9,725 L181,724.5 L183.1,725.1 L185.2,725.5 L187.3,725.4 L189.4,725.9 L191.5,725.2 L193.6,726 L195.7,725.6 L197.8,725.8 L199.9,726.2 L202,725.8 L204.1,724.3 L206.2,724 L208.3,723.9 L210.4,724.8 L212.4,723.7 L214.5,723.7 L216.6,722.9 L218.7,722.9 L220.8,722.4 L222.9,722.1 L225,722 L227.1,721.9 L229.1,721.7 L231.2,722 L233.2,721.4 L235.2,721.6 L237.3,721.2 L239.3,721.2 L241.4,720.5 L243.4,719.4 L245.5,720.3 L247.5,720.3 L249.6,719.3 L251.7,719.9 L253.8,719.3 L255.8,719.5 L257.9,718.6 L260,719.6 L262.1,719.1 L264.1,718.6 L266.2,718.2 L268.3,719.4 L270.4,719.6 L272.4,718.1 L274.5,719.2 L276.6,718.5 L278.7,718 L280.7,718.2 L282.8,718.9 L284.9,719 L287,717.6 L289,718.5 L291.1,717.5 L293.2,718.6 L295.3,717.9 L297.3,718.7 L299.4,718.8 L301.5,718 L303.6,718.1 L305.6,718.9 L307.7,717.9 L309.8,717.5 L311.9,718.4 L313.9,717.6 L316,717.9 L318.1,718.3 L320.1,718.6 L322.2,718 L324.3,717.8 L326.4,719.2 L328.4,718.4 L330.5,719.5 L332.6,719.4 L334.7,718.6 L336.7,718.8 L338.8,719 L340.9,719.2 L342.9,719.2 L345,719.2 L347.1,719.3 L349.2,719.9 L351.2,719.3 L353.3,719.3 L355.3,718.8 L357.4,719 L359.4,717.9 L361.5,717.6 L363.5,718.4 L365.6,717.3 L367.6,717 L369.7,715.8 L371.7,716.1 L373.8,716 L375.8,714.8 L377.9,715.4 L379.9,715.1 L382,713.8 L384,714.4 L386.1,713.8 L388.1,713.8 L390.2,712.9 L392.2,712.8 L394.2,713.3 L396.3,713.5 L398.3,712.4 L400.4,712.6 L402.4,713.8 L404.5,714.4 L406.5,713.4 L408.6,713.8 L410.6,714.2 L412.7,713.9 L414.7,714.1 L416.8,714.1 L418.8,714.4 L420.9,714.9 L422.9,714.5 L425,714.8 L427,715.6 L429.1,714.5 L431.1,715.4 L433.1,715.8 L435.1,716.4 L437.2,716 L439.2,716.1 L441.2,717.3 L443.2,716.7 L445.3,716.9 L447.3,717.6 L449.3,718 L451.5,717.3 L453.8,715.4 L456,715 L458,712 L458.4,709.7 L458.9,707.7 L459.4,706.5 L459.8,703.9 L460.2,702.6 L460.7,700 L460.9,697.5 L461.1,695.7 L461.2,694.2 L461.4,692.6 L461.6,689.9 L461.8,687.6 L462,685.4 L462.1,684 L462.3,681.5 L462.5,680 L462.6,678.4 L462.7,676.4 L462.9,673.3 L463,671.4 L463.1,670.2 L463.2,667.8 L463.3,666 L463.5,663.2 L463.6,660.8 L463.7,659 L463.8,657.7 L463.9,654.8 L464.1,652.9 L464.2,650.9 L464.3,649 L464.3,646.8 L464.4,644.8 L464.4,643.5 L464.4,640.3 L464.4,638 L464.5,637.5 L464.5,635.3 L464.5,633.4 L464.6,630.5 L464.6,629.3 L464.6,627.2 L464.6,624.1 L464.7,622.9 L464.7,621 L464.7,618.6 L464.8,616.4 L464.8,614 L464.8,612 L464.9,609.8 L464.9,607.5 L464.9,606.3 L464.9,603.7 L465,602.5 L465,600 L465,597.3 L465,596.6 L465,594.3 L465,592.6 L465,590.6 L465,588.6 L465,586.1 L465,583.2 L465,582.3 L465.1,579.4 L465.1,577.6 L465.1,576.2 L465.1,573.9 L465.1,571.8 L465.1,570.6 L465.1,568.1 L465.1,565.6 L465.1,563.5 L465.1,562.4 L465.1,559.8 L465.1,558.3 L465.1,555.6 L465.1,553.3 L465.1,551.9 L465.1,550.3 L465.1,547.3 L465.1,546.3 L465.1,544.5 L465.2,542.3 L465.2,540.3 L465.2,537 L465.2,536 L465.2,534.3 L465.2,531 L465.2,529.4 L465.2,527.3 L465.2,525.8 L465.2,523.7 L465.7,521.4 L466.2,519.3 L466.8,517.6 L467.3,515 L467.3,512.2 L467.3,510.3 L467.3,508.4 L467.3,506.3 L467.3,504.2 L467.3,503.7 L467.3,501.5 L467.3,498.2 L467.3,496.9 L467.3,494.5 L467.3,492.5 L467.3,490.6 L467.3,489 L467.3,486.9 L467.3,484.5 L467.3,482.2 L467.3,480.4 L467.3,478.1 L467.3,476.8 L467.3,475 L467.3,472.5 L467.3,470 L467.3,468.1 L467.3,466.4 L467.3,464.8 L467.3,463 L467.3,460.4 L467.3,459 L467.3,456.7 L467.3,454.4 L467.3,452.3 L467.3,450.5 L467.3,448.8 L467.3,446.3 L467.3,444.7 L467.3,442.3 L467.3,440 L467.3,438.4 L467.3,436.7 L467.3,433.6 L467.3,432.2 L467.3,430.2 L467.3,428.9 L467.3,427 L467.3,424 L467.3,422.9 L467.3,420.7 L467.3,417.8 L467.3,416.1 L467.3,413.6 L467.3,412.7 L467.3,410.4 L467.3,408.7 L467.3,406.6 L467.3,404.4 L467.3,402.4 L467.3,400.2 L467.3,397.4 L467.3,396.2 L467.3,393.2 L467.3,391.4 L467.3,390.4 L467.3,387.2 L467.3,385.3 L467.3,383.3 L467.3,382.5 L467.3,379.4 L467.3,377.1 L467.3,376.4 L467.3,373.2 L467.3,372.4 L467.3,369.8 L468.6,368.2 L469.8,366 L469.8,364.5 L469.8,362.7 L469.8,360.1 L469.8,358.5 L469.8,355.3 L469.8,354.4 L469.8,352 L469.8,350.3 L469.9,347.4 L469.9,346.4 L469.9,344.7 L469.9,341.3 L469.9,339.7 L469.9,338.1 L469.9,336.5 L469.9,333.6 L469.9,331.5 L469.9,329.6 L469.9,328.2 L469.9,326.4 L469.9,323.8 L469.9,321.8 L469.9,319.8 L469.9,317.8 L469.9,315.9 L469.9,313.3 L470,312 L470,310.8 L470,307.9 L470,306.4 L470,303.5 L470,302.3 L470,300.4 L470,298.3 L470,296 L473,294.8 L473,292.8 L473,290.7 L473,288.9 L473,287.3 L473,284 L473,281.9 L473,280.9 L473,279.1 L473,276.5 L473,274.3 L473,272.7 L473,269.8 L473,267.9 L473,265.7 L473,264.3 L473,261.8 L473,259.7 L473,258.4 L473,256.7 L473,253.6 L473,252.3 L473,249.8 L473,248.4 L473,245.9 L473,243.4 L473,241.3 L473,238.9 L473,237.6 L473,235.4 L473,233 L473,231.3 L473,229.2 L473,227.9 L473,224.8 L473,224.1 L473,221.3 L473,219.4 L473,217.2 L473,215.7 L473,213.7 L473,211.2 L473,209 L473,207.4 L473,205.6 L473,202.8 L473,200.9 L473.2,203.5 L473.4,206.2 L473.5,207.7 L473.7,210 L473.7,211.6 L473.7,213.6 L473.7,216.4 L473.7,218.4 L473.7,220.9 L473.7,222.7 L473.7,223.8 L473.7,225.7 L473.7,227.9 L473.7,229.8 L473.7,232.6 L473.7,234.9 L473.7,237 L473.7,238 L473.7,241 L473.7,242.1 L473.7,244.3 L473.7,246.8 L473.7,247.8 L473.7,249.9 L473.7,253.1 L473.7,254.3 L473.7,256.4 L473.7,258.8 L473.7,261 L473.7,261.9 L473.7,264.5 L473.7,266.6 L473.7,268.8 L473.7,270.3 L473.7,273 L473.7,275.6 L473.7,276.7 L473.7,279 L473.7,280.3 L473.7,282.6 L473.7,285.3 L473.7,286.4 L473.7,289.7 L473.7,291.7 L473.7,292.5 L473.7,295.8 L473.7,297 L473.7,299.6 L473.7,301.6 L473.7,302.9 L473.7,305.5 L473.7,307.5 L473.7,309.8 L473.7,311 L473.7,313.8 L473.7,316.1 L473.7,317.7 L473.7,319.5 L473.7,320.9 L473.7,323.5 L476.2,325 L476.2,327 L476.2,328.8 L476.2,331.4 L476.2,333.4 L476.2,335.3 L476.2,336.7 L476.2,339.5 L476.2,341.5 L476.2,342.8 L476.2,346 L476.2,347.6 L476.2,348.8 L476.2,352.1 L476.2,352.9 L476.2,355.2 L476.2,357.9 L476.2,359.7 L476.2,361.7 L476.2,363.9 L476.2,365.6 L476.2,367.4 L476.2,369.2 L476.2,371.1 L476.2,374.1 L476.2,376.2 L476.2,377.9 L476.2,380.3 L476.2,381.7 L476.2,383.6 L476.2,386 L477.4,387 L477.4,388.9 L477.4,391.7 L477.4,392.4 L477.4,395.2 L477.4,396.9 L477.4,399.7 L477.4,401.1 L477.4,403.2 L477.4,405.3 L477.4,407.6 L477.4,410 L477.4,411.4 L477.4,414.2 L477.4,415.1 L477.4,417.4 L477.4,419.2 L477.4,421.3 L477.4,424.4 L477.4,426.4 L477.4,427.6 L477.4,429.6 L477.4,432 L477.4,434.6 L477.4,436.8 L477.4,438.7 L477.4,440.5 L477.4,441.9 L477.4,444.3 L477.4,446.1 L477.4,448.6 L477.4,450.8 L477.4,452.7 L478.5,452 L478.6,449.5 L478.6,447.6 L478.7,446.5 L478.7,443.2 L478.8,442.5 L478.9,440.6 L478.9,438.7 L479,435.8 L479,434.1 L479.1,432.1 L479.2,430.2 L479.2,428.8 L479.3,426.3 L479.3,423.7 L479.4,422.6 L479.5,420 L479.5,418.2 L479.6,416.4 L479.7,413.2 L479.7,412.4 L479.8,410.3 L479.8,408 L479.9,406 L480,403.9 L480,401.5 L480.1,400 L480.1,397.3 L480.2,396 L480.3,394.2 L480.3,391.9 L480.4,390.1 L480.4,388.7 L480.5,386 L480.5,384.6 L480.5,381.4 L480.5,380.5 L480.5,378.2 L480.5,375.3 L480.5,373.8 L480.5,371.6 L480.5,369.3 L480.5,368.1 L480.5,366.7 L480.5,363.7 L480.5,362.6 L480.5,360.3 L480.5,357.4 L480.5,356.6 L480.5,354.2 L480.5,352.7 L480.5,350.3 L480.5,348.4 L480.5,345.7 L480.5,344.5 L480.5,342.7 L480.5,340.6 L480.5,337.9 L480.5,336.4 L480.5,334 L480.5,331.4 L480.5,329.3 L480.5,327.3 L480.5,325.5 L480.5,323.5 L480.5,322 L480.5,320.3 L480.5,318.1 L480.5,315.9 L480.5,314.2 L480.5,311.7 L480.5,309.9 L480.5,308.4 L480.5,305.8 L480.5,303.5 L480.5,302.6 L480.5,300.4 L480.5,297.8 L480.5,295.8 L480.5,294 L480.5,292.2 L480.5,289.6 L480.5,287.2 L480.5,285.5 L480.5,284.5 L480.5,281.4 L480.5,279.9 L480.5,277.5 L480.5,275.5 L480.5,273.5 L480.5,271.8 L480.5,269.5 L480.5,267.2 L480.5,265.4 L480.5,263.5 L480.5,262 L480.5,259.3 L480.5,257.2 L480.5,255.9 L480.5,253.9 L480.5,252.3 L480.5,249.3 L480.5,247.8 L480.5,245.8 L480.5,243.2 L480.5,242.7 L480.5,239.6 L480.5,237.4 L480.5,236 L480.5,233.5 L480.5,232 L482.4,229.6 L482.4,227.7 L482.4,225.3 L482.4,222.9 L482.4,220.7 L482.4,219.7 L482.4,217 L482.4,215.7 L482.4,213.2 L482.4,211.9 L482.4,208.8 L482.4,206.7 L482.4,204.7 L482.4,203.5 L482.4,201.1 L482.4,198.6 L482.4,196.2 L482.4,195.1 L482.4,193.5 L482.4,190.9 L482.4,187.9 L482.4,185.9 L482.4,183.9 L482.4,182 L482.4,179.7 L482.4,177.7 L482.4,176.6 L482.4,175 L482.4,171.8 L482.4,171 L482.4,168.2 L482.4,166.6 L482.4,164.8 L482.4,162.8 L482.4,160 L482.7,157.3 L483,155.7 L483.4,154.2 L483.7,152.7 L484,150 L484,147.3 L484.1,145.6 L484.1,144.5 L484.1,141.3 L484.1,139.7 L484.2,137.6 L484.2,136.1 L484.2,134.5 L484.3,131.2 L484.3,130.1 L484.3,128.1 L484.3,126.2 L484.4,123.7 L484.4,122.3 L484.4,119.4 L484.4,117.4 L484.5,115.1 L484.5,113.9 L484.5,111.4 L484.6,109.1 L484.6,106.9 L484.6,105.7 L484.6,103.5 L484.7,101.7 L484.7,99.3 L484.7,101.1 L484.8,103.3 L484.8,104.8 L484.8,107.7 L484.9,108.7 L484.9,111.4 L484.9,113.9 L485,115.8 L485,116.9 L485,119.2 L485.1,122.2 L485.1,123.9 L485.1,126.3 L485.1,128.3 L485.2,129.6 L485.2,132.4 L485.2,134.1 L485.3,135.5 L485.3,137.6 L485.3,139.2 L485.4,141.7 L485.4,144.6 L485.4,145.3 L485.5,148.1 L485.5,150 L486,151.4 L486.5,153.3 L487,156.2 L487.5,157.6 L488,160 L488,161.3 L488,163.5 L488,166.3 L488,168.2 L488,169.3 L488,171.7 L488,174.9 L488,175.8 L488,178.3 L488,180.1 L488,182.7 L488,184.5 L488,186.8 L488,188.4 L488,189.9 L488,191.9 L488,193.8 L488,197 L488,197.9 L488,199.7 L488,203.3 L488,204.1 L488,207.2 L488,207.9 L488,210.6 L488,212.2 L488,215.2 L488,216.9 L488,219 L488,221.2 L488,223.4 L488,224.6 L488,227 L488,228.8 L488,230.3 L488,233.4 L488,235.1 L488,237.5 L488,238.5 L488,241 L489.9,242 L489.9,244.1 L489.9,246 L489.9,248.5 L489.9,249.4 L489.9,251.9 L489.9,254.2 L489.9,255.5 L489.9,258.3 L489.9,260.7 L489.9,262.2 L489.9,264.6 L489.9,266.5 L489.9,267.9 L489.9,270.2 L489.9,273.3 L489.9,274.2 L489.9,276.4 L489.9,277.9 L489.9,280.1 L489.9,282.1 L489.9,285.3 L489.9,287 L489.9,289.3 L489.9,291.5 L489.9,293 L489.9,295.5 L489.9,296.9 L489.9,298.7 L489.9,301.6 L489.9,303.6 L489.9,305.7 L489.9,307 L489.9,309.5 L489.9,310.9 L489.9,313.9 L489.9,315.8 L489.9,316.8 L489.9,319.9 L489.9,320.7 L489.9,322.6 L489.9,325.6 L489.9,327 L489.9,329.4 L489.9,331.6 L489.9,333.4 L491.1,335 L491.1,336.3 L491.1,339.4 L491.1,340.7 L491.1,343 L491.1,344.9 L491.1,347.5 L491.1,349.6 L491.1,350.9 L491.1,352.6 L491.1,354.9 L491.1,357.2 L491.1,358.6 L491.1,360.8 L491.1,363.8 L491.1,365.7 L491.1,368.2 L491.1,370.2 L491.1,372.1 L491.1,373.3 L491.1,375 L491.1,377.3 L491.1,379.5 L491.1,381.7 L491.1,383.7 L491.1,385.5 L491.1,388.3 L491.1,389.4 L491.1,391.7 L491.1,394.4 L491.1,396.3 L491.1,397.5 L491.1,399.5 L491.1,402.4 L491.1,403.1 L491.1,405.4 L491.1,408 L491.1,410 L491.6,412.3 L492.2,413.9 L492.7,415.9 L493.2,418.3 L493.8,421.4 L494.3,423.2 L494.3,421 L494.3,419.8 L494.3,417.4 L494.3,415.6 L494.3,412 L494.3,410.1 L494.3,407.7 L494.3,406.3 L494.3,404 L494.3,401.5 L494.3,400.2 L494.3,398 L495.2,395.4 L496.1,393.7 L497,392 L498.2,389.6 L499.5,388 L499.6,386.5 L499.6,383.9 L499.7,381.6 L499.8,379.3 L499.8,377.9 L499.9,376.2 L499.9,374.3 L500,372 L500.9,369.8 L501.6,372 L501.6,374.7 L501.6,376.5 L501.6,377.7 L501.6,379.5 L501.6,382.5 L501.6,384.6 L501.6,386.2 L501.6,388.7 L501.6,390.3 L501.6,391.9 L501.6,393.7 L501.6,395.5 L501.6,398.6 L501.6,401 L501.6,403 L501.6,404.3 L501.6,406.7 L501.6,409.1 L501.6,411 L501.6,412.7 L501.6,414.4 L501.6,416.6 L501.6,418 L501.6,420.1 L501.6,422.9 L501.6,425.4 L501.6,426.8 L501.6,428.6 L501.6,430.5 L501.6,432.7 L501.6,435.3 L501.6,436.7 L501.6,439.6 L501.6,440.3 L501.6,442.6 L501.6,444.9 L501.6,446.8 L501.6,449.5 L501.6,451.5 L501.6,453.7 L501.6,455.2 L501.6,456.3 L501.6,459.2 L501.6,461.2 L501.6,463.1 L501.6,464.8 L501.6,467.5 L501.6,469.9 L501.6,470.6 L501.6,473.5 L501.6,475.1 L501.6,477.3 L501.6,480 L501.6,482.1 L501.6,483.6 L501.6,485.4 L503.6,487 L503.6,488.6 L503.7,491.8 L503.7,492.6 L503.8,495 L503.8,497.7 L503.9,499 L503.9,500.9 L504,504 L504,506.1 L504.1,507.1 L504.1,509.3 L504.2,511.1 L504.2,512.9 L504.3,515.2 L504.3,518.4 L504.4,519 L504.4,521.3 L504.5,523.3 L504.5,525.1 L504.6,527.9 L504.6,530.3 L504.7,532.4 L504.7,534.2 L504.8,536.5 L504.8,537.2 L504.9,539.7 L504.9,542.8 L505,543.5 L505,545.8 L505.1,548.2 L505.1,549.9 L505.2,552.4 L505.2,553.6 L505.3,556 L505.3,559.2 L505.4,559.9 L505.4,563.2 L505.5,564 L505.5,566.6 L506,565.2 L506.5,562.5 L507,560 L507,558.2 L507,555.4 L507.1,553.3 L507.1,552.4 L507.1,549.5 L507.1,547.5 L507.1,546.5 L507.2,544.6 L507.2,541.3 L507.2,540.7 L507.2,538.1 L507.2,535.8 L507.3,533.4 L507.3,531.8 L507.3,530.8 L507.3,527.6 L507.3,525.4 L507.4,523.4 L507.4,521.4 L507.4,519.8 L507.4,518.7 L507.4,515.3 L507.5,513.5 L507.5,512.7 L507.5,510.8 L507.5,508.8 L507.5,505.6 L507.6,503.8 L507.6,502.7 L507.6,500 L507.6,498.3 L507.6,495.7 L507.7,493.2 L507.7,491.8 L507.7,490.4 L507.7,488.5 L507.7,486.1 L507.8,483.9 L507.8,482.1 L507.8,479.9 L507.8,478.1 L507.8,476.5 L507.9,473.5 L507.9,472.2 L507.9,470.7 L507.9,468.6 L507.9,465.5 L508,464.7 L508,462.5 L508,459.5 L508,457.6 L508,455.5 L508.1,453.3 L508.1,452.8 L508.1,449.9 L508.1,448.6 L508.1,445.4 L508.2,443.2 L508.2,442.6 L508.2,440.5 L508.2,438.8 L508.2,436.3 L508.3,434 L508.3,432.4 L508.3,429.3 L508.3,428.1 L508.3,425.9 L508.4,423.4 L508.4,422.2 L508.4,420 L508.5,417.7 L508.5,415.9 L508.6,413.7 L508.6,411.5 L508.7,409.5 L508.7,407.9 L508.8,406.5 L508.8,404.3 L508.9,402.2 L508.9,400.1 L509,397.2 L509.1,396.2 L509.1,393 L509.2,390.8 L509.2,389.3 L509.3,387.6 L509.3,385 L509.4,383.4 L509.4,380.8 L509.5,379.8 L509.5,377 L509.6,375 L510.7,372 L511,374 L511.3,376.1 L511.6,378 L511.7,380.7 L511.7,383 L511.8,384.3 L511.9,386.3 L511.9,388.6 L512,389.9 L512,392.5 L512.1,395.3 L512.2,397.3 L512.2,398.2 L512.3,401 L512.3,403.8 L512.3,405.3 L512.3,408.5 L512.3,409.8 L512.3,411.8 L512.3,414.5 L512.3,416.6 L512.3,419.2 L512.3,420.5 L512.3,423.2 L512.4,425 L512.4,426.4 L512.4,428.4 L512.4,430.7 L512.4,432.6 L512.4,434.6 L512.4,437 L512.4,439.4 L512.5,441 L512.5,442.3 L512.5,444.4 L512.5,446.7 L512.5,449.1 L512.5,450.4 L512.5,452.3 L512.5,454.7 L512.6,456.7 L512.6,458.3 L512.6,461.2 L512.6,463.8 L512.6,465.2 L512.6,467.6 L512.6,469.7 L512.6,471.8 L512.7,473.9 L512.7,475.2 L512.7,477.6 L512.7,478.7 L512.7,482 L512.7,483.2 L512.7,485.4 L512.7,488.1 L512.8,489.1 L512.8,491 L512.8,494 L512.8,495.7 L512.8,496.9 L512.8,498.9 L512.8,501.4 L512.8,502.9 L512.9,506.2 L512.9,507.2 L512.9,509.4 L512.9,511.6 L512.9,513.8 L512.9,515.7 L512.9,518 L512.9,520.1 L513,521.8 L513,523.3 L513,526.7 L513,528.3 L513,530 L513.2,531.5 L513.4,534.2 L513.6,536.8 L513.8,539.4 L514,540 L514.2,542.1 L514.4,545 L514.4,547 L514.4,548.9 L514.4,551.7 L514.4,553.7 L514.4,554.9 L514.4,557.1 L514.4,559.4 L514.4,561.9 L514.4,562.8 L514.4,565.2 L514.4,566.7 L514.4,569.6 L514.4,570.7 L514.4,574.2 L514.4,575.5 L514.4,577.7 L514.4,578.9 L514.4,581.2 L514.4,583.6 L514.4,586.2 L514.4,587.8 L514.4,589.4 L514.4,592.5 L514.4,594.1 L514.4,595.9 L514.4,597.4 L514.4,599.6 L514.4,602.6 L514.4,603.4 L514.4,606 L514.7,608.1 L515,610.4 L515.3,612 L515.6,614.8 L515.9,617.1 L516.2,619.1 L516.5,621 L516.8,622.2 L517.1,624 L517.4,626.7 L517.7,628.6 L518,631 L518.3,632.6 L518.6,635.7 L518.8,636.8 L519.1,639.8 L519.4,642 L519.7,642.8 L519.9,646.1 L520.2,647.4 L520.5,649.2 L520.8,651.2 L521,653 L521.3,655.8 L521.6,657.9 L522.2,659.8 L522.8,662.6 L523.4,664.7 L523.9,665.5 L524.5,668.2 L525.1,670.4 L526,673.1 L526.8,676.1 L527.7,677.8 L528.7,680.1 L529.6,682.7 L530.8,684.5 L532.1,687.3 L533.3,689.2 L534.6,690.8 L535.8,692.3 L537.1,694.8 L538,696.2 L539,698.4 L539.9,700.4 L541.3,698.2 L542.7,695.8 L543.9,693.2 L545.2,691.7 L546.4,689.2 L548,686.6 L549.7,685 L550.8,687 L551.9,688.6 L553,690.2 L554.2,691.5 L555.5,694.3 L556.7,695.8 L558.6,696.6 L560.4,697.7 L562.3,698.6 L564.8,699.4 L567.3,700 L569.8,700.4 L571.6,701.3 L573.5,701.6 L575.4,703.7 L577.2,704.2 L579.1,705.7 L581,706 L582.8,707.1 L584.7,707.9 L587,707.7 L589.4,708.8 L591.7,708.6 L594,708.4 L595.9,708.7 L597.8,710.4 L599.7,710.7 L601.8,712.7 L603.9,712.8 L606,715 L608.1,715.4 L610,716.1 L611.8,716.4 L613.7,718 L615.5,718.1 L617.4,719.1 L619.7,719.8 L622,719.9 L624.4,719.4 L626.7,720.4 L628.7,720.2 L630.7,720.6 L632.7,719.8 L634.7,719.7 L636.7,720 L638.7,719.1 L640.7,719 L642.7,718.7 L644.7,718.5 L646.7,718.6 L648.8,717.3 L650.8,716.8 L652.8,717.6 L654.8,717 L656.8,716.3 L658.8,716.9 L660.8,716.6 L662.9,715.8 L664.9,716.2 L666.9,715.6 L668.9,714.8 L670.9,715 L672.9,714.1 L674.9,713.4 L676.9,714.3 L678.9,714.2 L680.9,713.4 L683,713.4 L685,713.3 L687,712.6 L689,713.1 L691,712.7 L693,712.2 L695,711.6 L697,712 L699.8,711.4 L702.6,710.6 L704.7,710.8 L706.7,712 L708.8,711.6 L710.8,712.5 L712.9,712.7 L714.9,713.5 L717,714.3 L719,714 L721.1,714.5 L723.1,715.7 L725.2,716.2 L727.2,716.1 L729.2,717 L731.2,716.9 L733.2,717.2 L735.2,718.3 L737.2,719.3 L739.2,719.6 L741.3,719.4 L743.3,719.6 L745.3,719.5 L747.3,720.2 L749.3,720.7 L751.3,722.1 L753.3,721.8 L755.3,721.6 L757.3,723.3 L759.3,723 L761.4,723.4 L763.4,723.5 L765.4,725 L767.4,724.7 L769.4,724.1 L771.4,724.6 L773.4,724.4 L775.4,723.8 L777.4,723.7 L779.4,724.8 L781.5,724.4 L783.5,724.2 L785.5,724.4 L787.5,723 L789.5,723.8 L791.5,723.8 L793.5,722.9 L795.5,723.2 L797.5,722.5 L799.5,722.8 L801.5,721.1 L803.6,721.2 L805.6,719.7 L807.6,719.9 L809.6,719 L811.6,718.2 L813.6,718.2 L815.6,717.6 L817.7,718 L819.7,717.4 L821.7,716.6 L823.7,716.2 L825.7,716.5 L827.7,716.1 L829.7,716.7 L831.7,715.8 L833.7,716.3 L835.7,716.3 L837.8,716 L839.8,715.5 L841.8,715.7 L843.8,716.4 L845.8,715.7 L847.8,716.6 L849.8,716.2 L851.8,716.2 L853.8,717 L855.8,717 L857.8,716.9 L859.9,716.4 L861.9,716 L863.9,716.9 L865.9,717.3 L867.9,717.7 L869.9,716.6 L871.9,716.7 L874,718.1 L876,717.8 L878,717.5 L880,717.6 L882,718.2 L884,717.5 L886,718.4 L888,718.8 L890,719 L892,718.5 L894,718.7 L896,719.7 L898,720.4 L900,720 L902,719.5 L904,719.3 L906,719.5 L908,720.7 L910,720.2 L912,720.3 L914,721.3 L916,720.7 L918,720.2 L920,721 L922,719.9 L924,720.5 L926,721.2 L928,720.4 L930,721 L932,720.2 L934,720.9 L936,720.5 L938,721.5 L940,720 L942,721.1 L944,720.3 L946,720.9 L948,720.3 L950,720.6 L952,719.9 L954,719.7 L956,720 L958,720 L960.1,719.7 L962.2,718.4 L963.3,716 L964.4,713.7 L965.4,711.9 L966.5,709.3 L967.6,707.8 L967.7,705.4 L967.9,703.6 L968,701.5 L968.2,699.4 L968.3,696.8 L968.5,694.2 L968.6,692.1 L968.8,690.4 L968.9,688.1 L969.1,686.5 L969.2,683.9 L969.4,682.6 L969.5,680 L969.5,678.2 L969.6,676.3 L969.6,674.4 L969.7,672 L969.8,669.9 L969.8,667.7 L969.9,665.3 L969.9,664.5 L970,662 L970,659.4 L970,658.7 L970.1,656.1 L970.1,654.2 L970.2,651.9 L970.2,649.4 L970.3,648.8 L970.4,645.5 L970.4,643.8 L970.5,642.8 L970.5,640 L970.5,637.4 L970.6,636 L970.6,634 L970.6,631.6 L970.7,630.7 L970.7,627.9 L970.7,625.2 L970.7,624 L970.8,621.2 L970.8,620.3 L970.8,618.6 L970.9,616.6 L970.9,613.3 L970.9,612.3 L971,609.7 L971,608 L971,605.7 L971.1,603.7 L971.1,601.4 L971.1,600.2 L971.1,597.3 L971.2,596.7 L971.2,593.3 L971.2,592.7 L971.3,589.5 L971.3,588 L971.4,585.2 L971.5,584.2 L971.6,581.8 L971.7,580.1 L971.8,577.6 L972,575.7 L972.1,572.7 L972.2,571.6 L972.3,569.2 L972.4,567.8 L972.5,565 L973,562.2 L973.5,560.3 L974,559.3 L974.5,557 L975.6,555 L976.2,558.2 L976.8,560 L976.9,561.9 L977,564.3 L977,566.1 L977.1,567.8 L977.2,569.9 L977.3,572.2 L977.4,573.2 L977.4,575.7 L977.5,578.4 L977.6,580 L977.6,581.6 L977.7,584 L977.7,585.6 L977.7,587.8 L977.8,590.2 L977.8,592.4 L977.8,594.7 L977.9,596 L977.9,597.5 L978,599.7 L978,601.3 L978,603.6 L978.1,606.1 L978.1,608.2 L978.1,609.6 L978.2,611.5 L978.2,613.4 L978.2,615.5 L978.3,618 L978.3,620 L978.3,621.6 L978.4,624.6 L978.4,626.1 L978.5,627.7 L978.5,629.9 L978.6,631.3 L978.6,634.4 L978.7,636.4 L978.8,637.8 L978.8,640.4 L978.8,641.6 L978.9,643.6 L978.9,645.6 L979,647.5 L979,650.2 L979.1,652.2 L979.1,654.4 L979.2,655.4 L979.2,658.4 L979.3,660 L979.5,662 L979.6,663.8 L979.8,666 L980,667.9 L980.1,669.5 L980.3,671.8 L980.5,674.2 L980.7,676.3 L980.8,678.7 L981,680 L981.9,681.5 L982.7,684.6 L983.6,686.5 L984.4,688.3 L985.3,690 L986.4,692.5 L987.5,693 L988.5,695.8 L989.6,697.8 L990.7,698.9 L993.4,697.4 L996,697.1 L996.1,695.2 L996.3,693.7 L996.5,690.6 L996.6,689.4 L996.8,687.4 L996.9,684.6 L997.1,682.1 L997.2,680.2 L997.4,679.1 L997.5,676.4 L997.6,674.1 L997.8,672.3 L998,671 L998.1,667.9 L998.2,665.4 L998.4,664.8 L998.6,661.8 L998.7,660 L998.7,657.8 L998.8,656.8 L998.8,653.7 L998.9,651.3 L998.9,650.6 L998.9,647.6 L999,645.6 L999,644.7 L999.1,641.6 L999.1,640.6 L999.1,637.7 L999.2,635.7 L999.2,633.5 L999.3,632.1 L999.3,630.1 L999.3,627.8 L999.4,626 L999.4,623.7 L999.5,622.5 L999.5,620.7 L999.5,618.4 L999.6,616.5 L999.6,613.3 L999.7,611.6 L999.7,609.5 L999.7,607.4 L999.8,606.7 L999.8,604.6 L999.9,602.7 L999.9,600 L999.9,598.1 L999.9,595.4 L1000,593.9 L1000,591.3 L1000,590.6 L1000,587.6 L1000.1,585.7 L1000.1,584.7 L1000.1,581.5 L1000.1,580.7 L1000.1,577.7 L1000.2,576.3 L1000.2,573.4 L1000.2,572.6 L1000.2,569.8 L1000.3,567.8 L1000.3,566.2 L1000.3,564.1 L1000.3,561.6 L1000.3,559.4 L1000.4,558.1 L1000.4,555.2 L1000.4,554.6 L1000.4,551.8 L1000.5,549.5 L1000.5,547.7 L1000.5,545.4 L1000.5,543.7 L1000.6,542.1 L1000.6,539.9 L1000.6,537.7 L1000.6,535.7 L1000.6,534 L1000.7,532.4 L1000.7,529.9 L1000.7,528.4 L1000.7,526 L1000.8,523.4 L1000.8,521.5 L1000.8,520 L1000.8,518.5 L1000.9,515.9 L1000.9,513.7 L1000.9,511.9 L1001,510.3 L1001,507.5 L1001.1,505.5 L1001.1,503.4 L1001.1,500.8 L1001.2,499.7 L1001.2,497.5 L1001.2,495.5 L1001.3,493.4 L1001.3,491.4 L1001.4,489.7 L1001.4,486.8 L1001.4,486.1 L1001.5,482.6 L1001.5,481.2 L1001.5,483.8 L1001.6,484.8 L1001.6,487.8 L1001.7,489 L1001.7,490.7 L1001.8,493.5 L1001.8,496 L1001.8,498.1 L1001.9,500.2 L1001.9,502.4 L1002,502.9 L1002,505.5 L1002,507.1 L1002.1,510.2 L1002.1,511.8 L1002.2,514.3 L1002.2,516.4 L1002.3,518.8 L1002.3,520 L1002.3,522.3 L1002.3,524.6 L1002.4,526.1 L1002.4,527.3 L1002.4,530.6 L1002.4,531.3 L1002.5,533.3 L1002.5,536.5 L1002.5,537.6 L1002.5,540.3 L1002.5,541.2 L1002.6,543.5 L1002.6,546.3 L1002.6,547.3 L1002.6,550 L1002.7,552.7 L1002.7,553.5 L1002.7,556.3 L1002.7,558.4 L1002.8,560.2 L1002.8,562.4 L1002.8,564.3 L1002.8,565.2 L1002.8,567.5 L1002.9,570.1 L1002.9,572.8 L1002.9,573.5 L1002.9,576.1 L1003,577.4 L1003,580.6 L1003,581.9 L1003,584 L1003,586.3 L1003.1,587.4 L1003.1,590.4 L1003.1,592.5 L1003.1,594.6 L1003.2,595.7 L1003.2,597.6 L1003.2,600 L1003.2,601.5 L1003.3,604.7 L1003.3,606 L1003.4,607.9 L1003.4,610.1 L1003.5,612.4 L1003.5,613.8 L1003.6,615.9 L1003.6,618.6 L1003.6,620.6 L1003.7,621.9 L1003.7,623.5 L1003.8,626.9 L1003.8,628.6 L1003.9,630.4 L1003.9,632.1 L1003.9,635.1 L1004,636.2 L1004,637.9 L1004.1,639.7 L1004.1,642.2 L1004.2,644.6 L1004.2,646.2 L1004.2,649.2 L1004.3,650.7 L1004.3,652.4 L1004.4,654.8 L1004.4,656.7 L1004.5,658.7 L1004.5,660.6 L1004.6,662.6 L1004.6,664.6 L1004.9,666.6 L1005.2,669.2 L1005.5,670.2 L1005.8,673.2 L1006,674.5 L1006.3,677.4 L1006.6,678.2 L1006.9,680.9 L1007.2,682.9 L1007.5,685 L1008,687.3 L1008.5,688.5 L1009,690.6 L1009.5,692.4 L1010,695 L1011.6,697.6 L1013.3,700 L1016.2,700.5 L1019.1,700.7 L1020.8,701 L1022.5,702.3 L1024.3,703.4 L1026,705 L1027.8,706.9 L1029.7,707.2 L1031.5,708.6 L1033.3,709.6 L1035.5,709.2 L1037.8,709.8 L1040,709.5 L1041.9,711.5 L1043.8,712.7 L1045.8,713.1 L1047.7,715.3 L1050,715.6 L1052.3,716 L1054.7,715.7 L1057,717.3 L1059.3,717.2 L1061.2,715.9 L1063.2,714.9 L1065.1,714.5 L1067,713.3 L1067.3,711.4 L1067.6,709.2 L1067.8,707.8 L1068.1,705.2 L1068.4,702.9 L1068.7,700.4 L1069,699.1 L1069.3,696.8 L1069.5,695 L1069.8,692.7 L1070.1,690.1 L1070.4,688.1 L1070.7,686.3 L1071,684.2 L1071.2,683.3 L1071.5,680.9 L1071.8,678.7 L1072.2,680.5 L1072.6,683.4 L1073,685.5 L1073.5,686.7 L1073.9,690 L1074.3,691.4 L1074.7,694 L1075.3,696.7 L1076,697.3 L1076.6,699.5 L1077.2,701.3 L1077.9,704.2 L1078.5,705.6 L1080,707.6 L1081.6,708.8 L1083.1,709.7 L1084.7,711.6 L1086.2,713.3 L1088.5,713.6 L1090.8,712.6 L1093.2,714 L1095.5,713.8 L1097.8,713.3 L1100.1,714.4 L1102.4,714.4 L1104.7,714.7 L1107,715.7 L1109.3,715.3 L1111.6,714.5 L1113.9,714.2 L1116.3,713.5 L1118.6,713.2 L1120.9,713.3 L1121.4,711.6 L1122,708.4 L1122.5,707.3 L1123,704.6 L1123.6,703.2 L1124.1,700.8 L1124.6,698.6 L1125.2,696.7 L1125.7,694 L1126.3,691 L1126.9,689 L1127.4,686.9 L1128,684.7 L1128.6,682.5 L1128.8,684.9 L1129,687.3 L1129.2,689.2 L1129.4,691.7 L1129.5,693.4 L1129.7,695 L1129.9,697.4 L1130.1,699.9 L1130.3,702.1 L1130.5,703.7 L1131.1,701.6 L1131.6,699.6 L1132.2,698.1 L1132.7,695.6 L1133.3,694.7 L1133.8,691.3 L1134.4,690.2 L1134.6,688.4 L1134.8,686.1 L1135,683.6 L1135.2,682.2 L1135.5,680 L1135.7,678.7 L1135.9,676.6 L1136.1,674.1 L1136.3,671.9 L1136.5,674.5 L1136.6,676.5 L1136.8,677.4 L1137,680.5 L1137.2,682.5 L1137.3,684.7 L1137.5,686.4 L1137.7,687.8 L1137.9,689.5 L1138,692.2 L1138.2,694 L1138.7,695.7 L1139.2,698.8 L1139.7,700.6 L1140.2,703.2 L1140.6,704.6 L1141.1,706.7 L1141.6,709.9 L1142.1,711.4 L1144,712.4 L1145.9,712.8 L1147.9,713.8 L1149.8,714.4 L1151.7,715.3 L1154,715.5 L1156.3,715.3 L1158.7,715 L1161,716.1 L1163.3,715.3 L1165.6,715.9 L1167.9,715.7 L1170.2,714.9 L1172.5,714.8 L1174.8,715.3 L1175.4,713.7 L1176,711.8 L1176.7,709.5 L1177.3,706.8 L1177.9,705.6 L1178.5,703.2 L1179.1,701 L1179.7,699.3 L1180.4,697.1 L1181,695.4 L1181.6,693.1 L1181.9,695.5 L1182.2,697.9 L1182.5,698.5 L1182.8,701.3 L1183,703.9 L1183.3,705.5 L1183.6,707.4 L1183.9,709.8 L1184.2,710.5 L1184.5,713.3 L1185.8,712.2 L1187.1,710.3 L1188.3,708.6 L1189.6,706.6 L1190.9,705.5 L1192.2,703.7 L1193,705 L1193.8,707.6 L1194.6,709.1 L1195.5,712.1 L1196.3,713.8 L1197.1,715.2 L1197.9,717.2 L1200.3,718.1 L1202.8,718 L1205.2,718.7 L1207.6,719.1 L1209.5,719.1 L1211.4,720.8 L1213.4,721.3 L1215.3,721.8 L1217.2,722 L1219.8,720.7 L1222.3,721.2 L1224.9,720.1 L1227.5,719.6 L1230,720.8 L1232.6,721 L1235,720.8 L1237.4,719.8 L1239.8,720.2 L1242.2,720.1 L1244.2,721.7 L1246.1,722" fill="none" stroke="#000" stroke-width="2.4" stroke-linejoin="miter" stroke-miterlimit="2"/>
<text x="275.4" y="494.4" font-size="22.3" fill="#000" textLength="120.3" lengthAdjust="spacingAndGlyphs" stroke="#000" stroke-width="0.25">3689-2977</text>
<text x="272.8" y="517.7" font-size="21.8" fill="#000" textLength="121.3" lengthAdjust="spacingAndGlyphs" stroke="#000" stroke-width="0.25">-OH/-OOH</text>
<path d="M331.6,527 V543.5" stroke="#000" stroke-width="3.4" stroke-linecap="round"/><path d="M324.8,541.5 L338.4,541.5 L334.4,552 L333.4,558.5 L329.8,558.5 L328.8,552 Z" fill="#000" stroke="#000" stroke-width="1" stroke-linejoin="round"/>
<text x="534.9" y="598.3" font-size="22.3" fill="#000" textLength="120.8" lengthAdjust="spacingAndGlyphs" stroke="#000" stroke-width="0.25">2750-2703</text>
<text x="540.6" y="623.7" font-size="21.8" fill="#000" textLength="45.6" lengthAdjust="spacingAndGlyphs" stroke="#000" stroke-width="0.25">-CH</text>
<text x="588.8" y="636.7" font-size="22.3" fill="#000" textLength="13.4" lengthAdjust="spacingAndGlyphs" stroke="#000" stroke-width="0.25">2</text>
<path d="M550.5,637.5 V652.5" stroke="#000" stroke-width="3.4" stroke-linecap="round"/><path d="M543.7,650.5 L557.3,650.5 L553.3,661.4 L552.3,668 L548.7,668 L547.7,661.4 Z" fill="#000" stroke="#000" stroke-width="1" stroke-linejoin="round"/>
<text x="838.3" y="563.3" font-size="21.6" fill="#000" textLength="120.3" lengthAdjust="spacingAndGlyphs" stroke="#000" stroke-width="0.25">1768-1543</text>
<text x="887.6" y="593.9" font-size="21.3" fill="#000" textLength="51.3" lengthAdjust="spacingAndGlyphs" stroke="#000" stroke-width="0.25">C=O</text>
<path d="M914.2,610 V624.5" stroke="#000" stroke-width="3.4" stroke-linecap="round"/><path d="M907.4,622.5 L921,622.5 L917,632.4 L916,638.4 L912.4,638.4 L911.4,632.4 Z" fill="#000" stroke="#000" stroke-width="1" stroke-linejoin="round"/>
<rect x="524.9" y="674.7" width="56.1" height="52.1" fill="none" stroke="#3069a8" stroke-width="3.2"/>
<rect x="860" y="640" width="100.4" height="80.6" fill="none" stroke="#3069a8" stroke-width="3.2"/>
<path d="M524.9,674.7 L80.3,863.9 M581,674.7 L614.3,846.3 M860,640 L788.5,853 M960.4,640 L1342.2,844.3" stroke="#4690dc" stroke-width="2.8" fill="none"/>
<rect x="72.5" y="862.7" width="565.6" height="341.2" fill="none" stroke="#000" stroke-width="2.2"/>
<path d="M111.6,1204 V1211 M158.4,1204 V1208 M205.2,1204 V1211 M252.1,1204 V1208 M298.9,1204 V1211 M345.7,1204 V1208 M392.6,1204 V1211 M439.4,1204 V1208 M486.2,1204 V1211 M533,1204 V1208 M579.9,1204 V1211" stroke="#000" stroke-width="2" fill="none"/>
<text x="91.8" y="1227" font-size="12.4" fill="#333" textLength="39.4" lengthAdjust="spacingAndGlyphs" stroke="#333" stroke-width="0.3">2800</text>
<text x="185.4" y="1227" font-size="12.4" fill="#333" textLength="39.4" lengthAdjust="spacingAndGlyphs" stroke="#333" stroke-width="0.3">2750</text>
<text x="279.1" y="1227" font-size="12.4" fill="#333" textLength="39.4" lengthAdjust="spacingAndGlyphs" stroke="#333" stroke-width="0.3">2700</text>
<text x="372.8" y="1227" font-size="12.4" fill="#333" textLength="39.4" lengthAdjust="spacingAndGlyphs" stroke="#333" stroke-width="0.3">2650</text>
<text x="466.4" y="1227" font-size="12.4" fill="#333" textLength="39.4" lengthAdjust="spacingAndGlyphs" stroke="#333" stroke-width="0.3">2600</text>
<text x="560.1" y="1227" font-size="12.4" fill="#333" textLength="39.4" lengthAdjust="spacingAndGlyphs" stroke="#333" stroke-width="0.3">2550</text>
<text x="251.8" y="1256" font-size="18" fill="#111" textLength="171" lengthAdjust="spacingAndGlyphs">Wavenumber (cm</text>
<text x="425" y="1248" font-size="10" fill="#111" textLength="9" lengthAdjust="spacingAndGlyphs">-1</text>
<text x="436" y="1256" font-size="18" fill="#111" textLength="8" lengthAdjust="spacingAndGlyphs">)</text>
<text transform="translate(28.4,1123.7) rotate(-90)" font-size="17.5" textLength="158.8" lengthAdjust="spacingAndGlyphs" fill="#111" stroke="#111" stroke-width="0.35">Absorbance %(a.u.)</text>
<path d="M257.7,891 V1078" stroke="#000" stroke-width="3" stroke-dasharray="3.5,4" fill="none"/>
<text x="243.6" y="879.6" font-size="9" fill="#555" textLength="17.4" lengthAdjust="spacingAndGlyphs">CH</text>
<text x="263.7" y="883.4" font-size="9" fill="#555" textLength="6" lengthAdjust="spacingAndGlyphs">2</text>
<text x="276.3" y="877.4" font-size="8" fill="#555" textLength="27" lengthAdjust="spacingAndGlyphs">2720</text>
<path d="M95.8,863.6 L98.4,864.7 L101,865.9 L103.5,867.4 L106.1,868.5 L108.7,870 L110.8,871.4 L112.8,873.4 L114.9,875.5 L117,877 L119.2,879.2 L121.5,881.1 L123.7,882.9 L126.6,882.4 L129.4,882.3 L132.3,881.9 L134.4,883.5 L136.6,885.2 L138.7,887.2 L140.9,884.4 L143,882 L145.2,879.7 L147.9,881.1 L150.6,882.1 L153.2,883.1 L155.9,884 L158.6,885 L161.3,885.4 L164,886.3 L166.7,887.2 L169.4,888.4 L172.1,889.5 L174.7,890.7 L177.4,891.5 L179.8,893.4 L182.2,894.5 L184.6,896.4 L187,898 L189.4,899.7 L191.8,901.2 L194.3,902.6 L196.7,904.4 L199.3,904.4 L201.9,904.1 L204.4,904.7 L207,904.7 L209.6,904.4 L211.8,906.1 L213.9,907.5 L216,909.6 L218.2,910.9 L220.3,909.1 L222.5,907.4 L224.7,905.4 L226.8,903.3 L229.5,904.1 L232.2,904.9 L234.9,905.8 L237.6,906.6 L239.7,908.4 L241.9,910 L244,911.9 L246.2,914.1 L248.3,915.4 L250.5,917.3 L252.6,919.4 L255.3,919 L257.9,918.2 L260.6,917.8 L263.3,917.3 L265.9,917.7 L268.5,918 L271,918.9 L273.6,918.8 L276.2,919.4 L278.4,920.6 L280.5,921.8 L282.7,923.4 L284.8,924.4 L287,925.9 L289.5,925.6 L292,925.7 L294.5,925.2 L297,925.2 L299.5,925.3 L302,924.8 L304.7,925.9 L307.4,927.2 L310,928.7 L312.7,930.2 L315.4,930.7 L318.1,930.8 L320.8,930.8 L323.5,931.3 L326.1,932.2 L328.7,933.2 L331.2,934.5 L333.8,935.2 L336.4,936.6 L339.1,937.1 L341.8,937.7 L344.6,938.1 L347.3,938.4 L350,938.6 L352.6,939.6 L355.2,939.6 L357.9,940.4 L360.5,941.5 L363.1,942 L365.7,942.4 L368.3,943.5 L371,943.9 L373.6,944.7 L376.2,945.1 L378.8,943.9 L381.3,942.8 L383.9,941.9 L386.4,943.3 L389,944.5 L391.5,946.2 L394.2,945 L397,944 L399,945.9 L401.1,947 L403.1,948.4 L405.1,950 L407.1,951.6 L409.2,953.6 L411.2,955 L413.9,954.9 L416.6,954.9 L419.4,954.7 L422.1,955 L424.3,953.1 L426.5,950.6 L428.7,952 L430.9,953.3 L433.1,954.6 L435.2,956.1 L437.4,957.6 L439.6,959.3 L441.8,958 L444,956.2 L446.2,955 L447.9,956.6 L449.7,958.9 L451.4,960.7 L453.2,963.2 L454.9,964.8 L457.8,963.8 L460.7,963.4 L463.6,962.6 L465.8,961.4 L468,959.8 L470.2,958.9 L472.4,957.2 L475.6,957.7 L478.9,958.2 L481.1,959.7 L483.3,961.4 L485.5,962.8 L487.7,964.8 L490.9,963.6 L494.2,962.6 L497.1,962.8 L500.1,963.6 L503,963.7 L505.2,965.2 L507.4,966.3 L509.6,967.2 L511.7,968.7 L513.9,969.9 L516.1,971.4 L518.6,971.2 L521.1,971.2 L523.6,971.7 L526.1,971.1 L528.6,971.1 L531.1,971.7 L533.6,971.4 L535.8,970 L537.9,968.5 L540.5,968.8 L543.1,968.4 L545.8,968.8 L548.4,968.6 L551,968.5 L553.2,970.2 L555.4,971.7 L557.6,973.1 L559.8,974.6 L562.7,974.7 L565.6,975.1 L568.5,975.7 L571,977.1 L573.6,978.2 L576.1,979.3 L578.7,980 L581.2,981.3 L583.8,982.3 L586,980.6 L588.2,978.5 L590.4,976.7 L592.6,974.6 L595,975.9 L597.3,977.3 L599.7,978.6 L602.1,979.6 L604.4,981.3 L606.8,982.3 L609.5,981 L612.2,979 L614.8,978.8 L617.4,979.5 L620.1,979.6 L622.7,979.4 L625.3,979.4 L627.7,980.1 L630.2,981.7 L632.6,982.2 L635.1,983.8 L637.5,984.5" fill="none" stroke="#00f" stroke-width="2.2" stroke-linejoin="round"/>
<path d="M82.9,863.6 L83.8,866.4 L84.6,869.2 L85.5,872 L86.3,874.8 L87.2,877.4 L88,880 L88.7,882.9 L89.4,884.9 L90.1,887.8 L90.8,890.7 L91.5,893.1 L92.3,895.9 L93,898 L93.7,900.9 L94.4,903.3 L95.1,906.1 L95.8,908.7 L96.6,911.2 L97.3,913.2 L98.1,915.7 L98.9,918.2 L99.7,921.1 L100.5,923.4 L101.2,925.3 L102,928 L103.1,930.7 L104.2,932.7 L105.3,935.5 L106.4,937.6 L107.5,939.9 L108.6,943 L109.7,945.2 L110.6,947.4 L111.5,949.8 L112.4,952.7 L113.3,955.1 L114.2,957.1 L115.1,959.9 L116,962 L117.3,964.6 L118.6,967.3 L119.8,969.5 L121.1,972.6 L122.4,975 L123.7,977.4 L125,980.2 L126.2,982.7 L127.5,984.8 L128.7,987.4 L130,990 L131.4,992 L132.9,994.2 L134.3,996.3 L135.8,998.7 L137.2,1001.1 L138.7,1003.2 L140.4,1005.2 L142,1008 L143.7,1010.2 L145.3,1012.5 L147,1015 L148.8,1017.2 L150.6,1018.9 L152.3,1020.7 L154.1,1022.7 L155.9,1024.7 L157.9,1026.9 L159.9,1028.5 L162,1031.3 L164,1033 L165.8,1034.4 L167.6,1036.7 L169.5,1038.6 L171.3,1039.8 L173.1,1041.9 L175.2,1043.9 L177.4,1045.4 L179.6,1047.3 L181.7,1048.7 L183.8,1050.5 L186,1052.6 L188.2,1054.2 L190.5,1056.6 L192.8,1057.9 L195,1060 L197.1,1062.1 L199.1,1064.2 L201.1,1066.1 L203.2,1067.7 L205.1,1065.7 L207.1,1063.7 L209.1,1061.9 L211,1060 L212.9,1058.3 L214.8,1055.9 L216.6,1054.5 L218.5,1052.6 L220.4,1050.5 L223.1,1049.1 L225.7,1046.9 L228.3,1045.9 L231,1044 L233.2,1042.4 L235.4,1041.3 L237.5,1040.2 L239.7,1039.2 L241.9,1037.6 L244.6,1036.3 L247.3,1035.5 L250,1034 L252.5,1032 L255.1,1029.7 L257.6,1027.8 L259.1,1029.7 L260.5,1031.7 L262,1034 L264,1036.8 L266,1040.2 L268.1,1041.9 L270.1,1044.2 L272.2,1046 L273.6,1048.6 L274.9,1050.2 L276.2,1052.4 L277.6,1054.9 L280.3,1055.2 L282.9,1054.9 L285.6,1054.9 L287.4,1057 L289.1,1059 L290.9,1061.4 L292.6,1063.7 L294.4,1065.6 L298,1064.7 L301.6,1063.8 L304.5,1065.2 L307.5,1066.4 L310.4,1068.2 L313.1,1069.5 L315.7,1069.9 L318.4,1071.3 L321.5,1069.7 L324.7,1068.2 L326.6,1070.6 L328.6,1072.2 L330.5,1074.8 L332.5,1077.1 L334.4,1078.9 L336.5,1077.5 L338.6,1076.1 L340.7,1074.4 L343.1,1075.6 L345.4,1077.4 L347.8,1078.9 L351.4,1078.7 L354.9,1078.9 L357.5,1080.7 L360.1,1081.8 L362.7,1083.4 L365.3,1085 L368,1085.5 L370.8,1085.5 L373.5,1085.8 L376.2,1085.6 L378.4,1087.5 L380.6,1089.5 L382.8,1091.5 L385.7,1093.1 L388.6,1094.4 L391.5,1095.9 L394.2,1096.3 L396.9,1096.9 L399.7,1097.3 L402.4,1098.1 L405.1,1098 L407.9,1098.4 L410.6,1098.4 L413.4,1098.1 L416.1,1099.3 L418.9,1100.3 L421.6,1101.3 L424.3,1102.5 L427.2,1100.7 L430.1,1099.4 L433,1098.1 L435.9,1099.3 L438.9,1100.3 L441.8,1101 L445.1,1099.5 L448.3,1098.1 L450.5,1099.7 L452.7,1101 L454.9,1102.3 L457.1,1103.7 L459.2,1105.1 L461.4,1106.2 L463.6,1107.8 L465.8,1109 L468.5,1108.8 L471.2,1109 L474,1109.2 L476.7,1109 L479.2,1110.1 L481.8,1110.7 L484.4,1112.1 L486.9,1112.8 L489.4,1113.6 L492,1114.5 L494.8,1114.7 L497.5,1115.6 L500.2,1116 L503,1116.7 L505.9,1115.7 L508.8,1114.5 L511.7,1113.4 L514.2,1114 L516.8,1114.2 L519.4,1114.7 L521.9,1114.8 L524.5,1115.3 L527,1115.6 L529.2,1117.4 L531.4,1119.1 L533.6,1120.4 L535.8,1122.1 L538.3,1122.2 L540.9,1122 L543.4,1121.7 L545.9,1121.7 L548.5,1121.5 L551,1121 L552.6,1123.2 L554.3,1125.4 L556,1127.4 L557.6,1129.8 L560.3,1130.5 L563,1131 L565.8,1131.1 L568.5,1131.5 L570.7,1133 L572.9,1134.5 L575.1,1135.9 L577.3,1136.9 L579.5,1138.5 L582.2,1140.1 L585,1141.3 L587.7,1142.7 L590.4,1144 L593,1144.8 L595.6,1145.8 L598.3,1146.8 L600.9,1147.6 L603.5,1148.4 L606,1146.9 L608.6,1144.7 L611.1,1143.3 L613.6,1144.3 L616,1145.8 L618.5,1147.2 L621,1148.4 L623.8,1148.9 L626.5,1150 L629.2,1150.6 L632,1150.9 L634.8,1152 L637.5,1152.7" fill="none" stroke="#f00" stroke-width="2.2" stroke-linejoin="round"/>
<path d="M116.2,863 L117.5,866.2 L118.7,869.2 L120,872 L121,874.5 L122,876.9 L123,879.3 L123.9,882.2 L124.9,884.6 L125.9,887.2 L126.7,890.1 L127.5,892.5 L128.3,895.5 L129.1,897.8 L129.9,900.8 L130.7,903.5 L131.5,906 L132.3,908.7 L132.9,911.5 L133.5,914.3 L134.1,916.8 L134.8,919.8 L135.4,922.7 L136,925.1 L136.6,928 L137.8,930.7 L139.1,933 L140.3,935.6 L141.5,937.7 L142.7,940 L144,943 L145.2,945.2 L146,947.8 L146.8,950 L147.6,952.2 L148.4,954.7 L149.2,957.4 L150,959.6 L150.8,962.5 L151.6,964.6 L152.9,967.1 L154.3,969.2 L155.7,971.9 L157,974.2 L158.3,977 L159.7,979.4 L161.1,981.5 L162.4,983.9 L163.7,986.2 L165.1,988.3 L166.4,990.6 L167.8,992.8 L169.1,994.3 L170.4,996.7 L171.8,999 L173.1,1001.1 L174.4,1003.4 L175.8,1006 L177.2,1008.1 L178.5,1011 L179.8,1013.2 L181.2,1015.3 L182.6,1018.1 L183.9,1020.4 L184.8,1022.6 L185.6,1024.9 L186.5,1027.5 L187.3,1029.6 L188.2,1032 L189,1034.8 L189.8,1037.1 L190.7,1038.9 L191.6,1041.8 L192.4,1044 L193.5,1046 L194.6,1048.6 L195.6,1051.4 L196.7,1053.6 L197.8,1055.7 L198.9,1058.1 L200,1060.5 L201,1062.7 L202.1,1065.7 L203.2,1067.7 L204.3,1065 L205.3,1062.8 L206.4,1060.6 L207.5,1057.9 L208.6,1055.9 L209.7,1053 L210.7,1051.1 L211.8,1048.3 L212.9,1046.2 L213.9,1043.7 L215,1041.5 L216.1,1038.8 L217.2,1036.7 L218.2,1034.3 L219.3,1031.8 L220.4,1029.4 L221.4,1027.2 L222.5,1024.7 L224,1022.5 L225.6,1020.1 L227.1,1018.4 L228.7,1016 L230.2,1014 L231.8,1012 L233.3,1009.7 L234.6,1007 L236,1004.5 L237.3,1002.2 L238.7,1000.1 L240,997.5 L241.3,995 L242.7,992.7 L244,990.3 L245.2,988.3 L246.3,985.5 L247.5,983.2 L248.7,981.2 L249.9,978.7 L251,976.1 L252.2,973.9 L253.4,971.6 L254.6,969 L255.7,966.9 L256.9,964.6 L259.4,967.2 L262,970 L263.8,972.9 L265.5,975.3 L266,978.1 L266.5,981.3 L267,984.4 L267.5,987.4 L268,990 L269,992.6 L270,995.4 L271.1,997.9 L272.1,1000.6 L273.1,1003.3 L274.2,1006.2 L275.4,1009.3 L276.5,1012.3 L277.6,1014.9 L280.3,1016.5 L282.9,1018.1 L285.6,1020.2 L287.4,1022.9 L289.1,1025.6 L290.6,1027.4 L292.1,1029.4 L293.6,1031.8 L296.2,1029.1 L298.9,1031.5 L301.6,1033.6 L305.1,1034.4 L308.7,1035.8 L313.1,1035.8 L315.2,1037.4 L317.2,1038.6 L319.3,1040.2 L321.6,1039.2 L323.8,1037.6 L327.3,1038.4 L329.8,1040.6 L332.2,1042.4 L334.4,1040.6 L336.7,1039.3 L338.9,1038 L341.9,1038.2 L344.8,1037.8 L347.8,1037.6 L350.2,1039.4 L352.5,1041.6 L354.9,1043.3 L357.6,1045.3 L360.2,1046.9 L362.9,1048.7 L365.5,1048.2 L368.2,1047.8 L371.1,1045.7 L374,1044.1 L376.2,1045.8 L378.4,1047.5 L380.6,1049.7 L382.8,1051.5 L385,1053.3 L387.2,1054.4 L389.4,1056.1 L391.5,1057.1 L393.7,1058.5 L395.9,1060.2 L398,1061.4 L400.2,1063.1 L402.4,1064.2 L404.6,1065.5 L406.8,1066.8 L409,1067.6 L411.2,1069.3 L413.4,1070.3 L415.8,1070.8 L418.1,1072 L420.5,1073 L422.9,1073.9 L425.2,1074.7 L427.6,1075.2 L429.5,1073.4 L431.4,1071.8 L433.3,1070.2 L435.2,1068.2 L437.7,1069.7 L440.1,1072 L442.6,1073.7 L445.1,1075.2 L446.9,1073.3 L448.7,1071.7 L450.5,1069.7 L453.2,1070.5 L456,1071.2 L458.8,1072.3 L461.5,1073 L463.4,1075.1 L465.3,1078.1 L467.2,1080.7 L469.1,1082.8 L471.5,1084.4 L473.9,1086.6 L476.3,1087.7 L478.7,1090 L481.1,1091.5 L483.5,1092.4 L485.9,1093.9 L488.3,1094.5 L490.7,1095.9 L493.1,1096.6 L495.7,1095.3 L498.2,1094.4 L500.8,1093.7 L503.7,1094.2 L506.6,1094.3 L509.5,1094.4 L511.7,1093 L513.9,1091.2 L516.1,1089.9 L518.3,1088.5 L520.5,1087.2 L522.7,1088.2 L524.9,1090.2 L527,1091.4 L529.2,1092.6 L531.4,1094.9 L533.6,1096.7 L535.7,1098.4 L537.9,1100.2 L540.1,1102.5 L543,1103.8 L546,1104.4 L548.9,1105.8 L551.1,1107.6 L553.3,1109.3 L555.4,1111 L557.6,1112.5 L559.8,1114.5 L562.3,1115.4 L564.8,1117 L567.3,1117.9 L569.8,1119.5 L572.3,1120.5 L574.8,1121.8 L577.3,1123.2 L580.2,1124.1 L583.1,1125.4 L586,1126.5 L588.9,1127.9 L591.9,1129.2 L594.8,1130.9 L598,1129.6 L601.3,1128.7 L603.8,1129.8 L606.4,1131.2 L609,1131.9 L611.5,1132.9 L614,1134.1 L616.6,1135.3 L619.2,1135.9 L621.8,1137 L624.4,1137.9 L627,1138.6 L629.7,1139.1 L632.3,1140.1 L634.9,1140.9 L637.5,1141.8" fill="none" stroke="#000" stroke-width="2.2" stroke-linejoin="round"/>
<rect x="100.5" y="1105.5" width="242" height="62" rx="1.5" fill="#fff" stroke="#000" stroke-width="2.4"/>
<path d="M107.8,1115.6 H156.7" stroke="#000" stroke-width="2"/>
<path d="M106.5,1137.1 H156.7" stroke="#f00" stroke-width="2"/>
<path d="M106.5,1158.9 H156.7" stroke="#00f" stroke-width="2"/>
<text x="164" y="1121.3" font-size="10.5" fill="#6b6350" textLength="99.3" lengthAdjust="spacingAndGlyphs">PP as received</text>
<text x="162.2" y="1143" font-size="10.5" fill="#6b6350" textLength="165.6" lengthAdjust="spacingAndGlyphs">PP after 7 days exposure</text>
<text x="162.2" y="1164.6" font-size="10.5" fill="#6b6350" textLength="174.5" lengthAdjust="spacingAndGlyphs">PP after 16 days exposure</text>
<rect x="786" y="843.5" width="556.8" height="377.5" fill="none" stroke="#000" stroke-width="2.2"/>
<path d="M806.5,1221 V1227.3 M847.3,1221 V1224.5 M888.1,1221 V1227.3 M928.9,1221 V1224.5 M969.7,1221 V1227.3 M1010.5,1221 V1224.5 M1051.3,1221 V1227.3 M1092.1,1221 V1224.5 M1132.9,1221 V1227.3 M1173.7,1221 V1224.5 M1214.5,1221 V1227.3 M1255.3,1221 V1224.5 M1296.1,1221 V1227.3 M1336.9,1221 V1224.5" stroke="#000" stroke-width="2" fill="none"/>
<text x="787.4" y="1244.4" font-size="15" fill="#333" textLength="38.6" lengthAdjust="spacingAndGlyphs" stroke="#333" stroke-width="0.3">1800</text>
<text x="869" y="1244.4" font-size="15" fill="#333" textLength="38.6" lengthAdjust="spacingAndGlyphs" stroke="#333" stroke-width="0.3">1750</text>
<text x="950.6" y="1244.4" font-size="15" fill="#333" textLength="38.6" lengthAdjust="spacingAndGlyphs" stroke="#333" stroke-width="0.3">1700</text>
<text x="1032.2" y="1244.4" font-size="15" fill="#333" textLength="38.6" lengthAdjust="spacingAndGlyphs" stroke="#333" stroke-width="0.3">1650</text>
<text x="1113.8" y="1244.4" font-size="15" fill="#333" textLength="38.6" lengthAdjust="spacingAndGlyphs" stroke="#333" stroke-width="0.3">1600</text>
<text x="1195.4" y="1244.4" font-size="15" fill="#333" textLength="38.6" lengthAdjust="spacingAndGlyphs" stroke="#333" stroke-width="0.3">1550</text>
<text x="1277" y="1244.4" font-size="15" fill="#333" textLength="38.6" lengthAdjust="spacingAndGlyphs" stroke="#333" stroke-width="0.3">1500</text>
<text x="963.8" y="1277" font-size="19" fill="#111" textLength="172" lengthAdjust="spacingAndGlyphs">Wavenumber (cm</text>
<text x="1139" y="1268" font-size="10" fill="#111" textLength="9" lengthAdjust="spacingAndGlyphs">-1</text>
<text x="1153" y="1277" font-size="19" fill="#111" textLength="9" lengthAdjust="spacingAndGlyphs">)</text>
<text transform="translate(740.4,1129.3) rotate(-90)" font-size="18.5" textLength="174.5" lengthAdjust="spacingAndGlyphs" fill="#111" stroke="#111" stroke-width="0.35">Absorbance %(a.u.)</text>
<text x="1071.4" y="882.8" font-size="9" fill="#333" textLength="24.5" lengthAdjust="spacingAndGlyphs">C=O</text>
<path d="M787.4,1115.2 L790.3,1114.7 L793.1,1114.1 L796,1114 L798.7,1115 L801.4,1115.5 L804,1116.7 L806.7,1117.6 L809.1,1116.5 L811.6,1115.2 L814,1114.5 L817.6,1114.3 L821.2,1114 L824.2,1113.6 L827.2,1113.9 L830.2,1113.7 L833.2,1114 L836.2,1113 L839.1,1112.7 L842,1112.4 L845,1111.5 L847.5,1110.7 L850,1110.3 L852.4,1110.2 L854.9,1109.9 L857.4,1109.1 L859.9,1109.1 L862.4,1109 L865,1109.4 L867.5,1108.7 L870,1109 L872.9,1109 L875.8,1108.3 L878.6,1107.9 L881.5,1107.9 L885.1,1108.2 L888.7,1109.1 L891.1,1108 L893.5,1107.4 L896,1106 L898.4,1105.3 L900.8,1104.3 L903.7,1103.9 L906.6,1103.2 L909.4,1102.9 L912.3,1102 L915.2,1101.9 L917.6,1100.3 L920,1099.3 L922.5,1098.4 L924.9,1097 L927.3,1095.8 L929.7,1094.7 L932.1,1093.6 L934.5,1092.2 L937,1090.9 L939.4,1090.1 L941.8,1088.8 L944.2,1087.4 L946.6,1086.3 L949,1085.7 L951.4,1084.7 L953.8,1083.8 L956.5,1082.8 L959.3,1081.5 L962,1080 L964.9,1078.3 L967.8,1077.3 L970.7,1075.4 L972.5,1073 L974.4,1071.1 L976.2,1069.2 L978,1066.9 L979.2,1064.4 L980.4,1062.5 L981.6,1059.9 L982.8,1058.2 L984,1056.1 L985.2,1053.7 L986.2,1051.3 L987.3,1049.2 L988.3,1046.3 L989.3,1044.2 L990.3,1041.7 L991.4,1039.3 L992.4,1036.8 L993.4,1034.4 L994.5,1032.2 L995.5,1029.9 L996.6,1027.1 L997.6,1024.9 L998.7,1022 L999.7,1019.9 L1000.5,1017.6 L1001.3,1015.2 L1002.1,1013 L1002.9,1010.5 L1003.7,1007.6 L1004.5,1005.4 L1005.4,1002.9 L1006.3,1000.7 L1007.2,997.8 L1008.1,995.7 L1009,993.1 L1009.9,990.6 L1010.8,988.2 L1011.7,986.1 L1012.9,983.9 L1014.1,981 L1015.3,978.7 L1016.5,976.5 L1017.5,974 L1018.6,972 L1019.6,968.9 L1020.7,966.8 L1021.7,964.5 L1022.8,962.3 L1023.8,959.6 L1024.6,957.4 L1025.4,955.1 L1026.2,952.2 L1027,949.9 L1027.8,947.4 L1028.6,945.1 L1030.4,943 L1032.2,940.7 L1034,937.6 L1035.8,935.5 L1037.3,932.8 L1038.7,930.4 L1040.2,928 L1041.6,925.8 L1043.1,923.4 L1044.9,921.1 L1046.7,918.4 L1048.5,915.8 L1050.3,913.8 L1052.7,912.7 L1055.2,911.5 L1057.6,910.6 L1060,909.5 L1062.4,908.6 L1064.8,907.1 L1067.2,905.6 L1069.7,904.4 L1072.1,903.1 L1074.5,901.7 L1077.5,900.7 L1080.5,900.8 L1083.5,900.1 L1086.5,899.3 L1089.5,900.2 L1092.5,900.7 L1095.6,901 L1098.6,901.7 L1101.8,901.8 L1105.1,901.7 L1108.3,902.2 L1110.7,903.7 L1113.1,904.6 L1115.5,905.9 L1117.9,907.4 L1120.3,909 L1122.7,909.8 L1125.1,910.9 L1127.5,911.7 L1130,912.7 L1132.4,913.9 L1134.8,914.9 L1137.2,916.2 L1139.6,917.7 L1142,919 L1144.5,921.3 L1146.9,922.7 L1149.3,923.9 L1151.7,925.8 L1154.1,927.3 L1156.5,929.1 L1159,930.8 L1161.4,932.3 L1163.8,934.3 L1165.8,936.4 L1167.8,938.3 L1169.8,939.7 L1171.8,941.6 L1173.8,943.1 L1175.8,945.2 L1177.8,946.9 L1179.8,949.1 L1181.8,951 L1183.9,953.5 L1185.9,954.9 L1187.9,957.2 L1190.3,958.6 L1192.7,961.2 L1195.1,962.7 L1197.5,964.5 L1199.9,965.4 L1202.3,966.9 L1204.8,967.7 L1207.2,969.3 L1209.6,970.5 L1212,971.9 L1214.4,972.8 L1216.9,973.7 L1219.3,974.6 L1221.7,973.1 L1224.1,971.8 L1226.5,970.4 L1228.9,969.3 L1231.7,969 L1234.4,968.3 L1237.2,968 L1239.9,967.1 L1242.7,966.5 L1245.4,966.5 L1248.2,965.7 L1250.6,964.9 L1253,963.5 L1255.5,962.3 L1257.9,961.1 L1260.3,959.6 L1262.7,958.8 L1265.1,957.4 L1267.5,956.6 L1270,955.5 L1272.4,954.2 L1274.8,953.6 L1276.9,951.6 L1278.9,950.2 L1281,948.6 L1283,947.3 L1285.1,945.9 L1287.1,943.9 L1289.2,942.3 L1291.6,941.8 L1294,940.9 L1296.5,940 L1298.9,938.7 L1301.3,937.9 L1303.7,936.7 L1306.1,935.8 L1308.6,934.8 L1311,933.8 L1313.4,933.1 L1316.3,932.5 L1319.2,932 L1322.1,931.2 L1325,930.2 L1327.9,929.5 L1330.5,928.6 L1333.2,927.8 L1335.8,926.2 L1338.5,925.7 L1341.1,924.6" fill="none" stroke="#00f" stroke-width="2.2" stroke-linejoin="round"/>
<path d="M786,1153.8 L788.6,1153.6 L791.3,1154.2 L794,1153.5 L796.6,1154 L799.2,1153.5 L801.9,1153.8 L804.3,1154.8 L806.7,1156.6 L809.1,1157.2 L811.5,1158.6 L814.7,1157.9 L818,1157 L821.2,1156.2 L823.6,1156.8 L826,1157.6 L828.4,1158 L830.9,1159.2 L833.3,1159.3 L835.7,1160.1 L838.1,1161 L840.9,1160.7 L843.6,1161 L846.4,1161.2 L849.1,1161.7 L851.9,1161.4 L854.6,1161.3 L857.4,1161.7 L860.1,1161.4 L862.8,1161.9 L865.4,1161.1 L868.1,1161.5 L870.8,1161.2 L873.5,1161.4 L876.1,1161 L878.8,1161.2 L881.5,1161 L884.3,1161.2 L887,1161.5 L889.8,1161.8 L892.5,1161.8 L895.3,1161.6 L898,1161.7 L900.8,1162.2 L903.6,1162.4 L906.4,1161.8 L909.2,1161.4 L912.1,1161.8 L914.9,1161.3 L917.7,1161 L920.1,1161.9 L922.5,1162.7 L924.9,1163 L927.3,1163.8 L929.7,1164.6 L932.6,1164.7 L935.5,1163.8 L938.4,1164.1 L941.3,1163.3 L944.2,1163.4 L947,1164.1 L949.7,1164.6 L952.5,1165.3 L955.2,1165.7 L958,1166 L960.7,1166.2 L963.5,1167 L966.7,1165.9 L969.9,1165.4 L973.1,1164.6 L976,1164.2 L978.9,1163.5 L981.8,1163.8 L984.7,1163.1 L987.6,1162.7 L990.5,1162.8 L993.4,1162.3 L996.3,1162.2 L999.2,1161.9 L1002.1,1162.2 L1004.5,1161.4 L1006.9,1160.6 L1009.3,1160 L1011.7,1159.2 L1014.1,1158.6 L1016.9,1158.4 L1019.6,1157.9 L1022.4,1156.8 L1025.1,1156.5 L1027.9,1155.8 L1030.6,1155.6 L1033.4,1155 L1036.3,1154.9 L1039.2,1153.8 L1042.1,1153.7 L1045,1152.8 L1047.9,1152.5 L1050.3,1152.7 L1052.8,1154 L1055.2,1154.2 L1057.6,1155 L1061.2,1154.2 L1064.8,1153.9 L1067.2,1155 L1069.7,1156.1 L1072.1,1157.4 L1074.5,1158.7 L1077.3,1158.5 L1080.1,1158.2 L1083,1158.2 L1085.8,1157.7 L1088.6,1157.4 L1091.4,1157.5 L1094.4,1157.8 L1097.4,1158.4 L1100.4,1159.3 L1103.4,1159.9 L1106.2,1159.9 L1109,1160.3 L1111.8,1160.2 L1114.7,1160.4 L1117.5,1160.7 L1120.3,1160.4 L1123,1160.1 L1125.7,1160 L1128.4,1160.1 L1131.1,1160.3 L1133.7,1160.5 L1136.4,1160.6 L1139.1,1160.3 L1141.8,1160.8 L1144.5,1160.4 L1147.3,1160.1 L1150,1160.9 L1152.8,1160.5 L1155.5,1161.1 L1158.3,1160.5 L1161,1161.4 L1163.8,1161.1 L1166.2,1162.2 L1168.6,1163.3 L1171,1163.9 L1173.4,1164.7 L1176.2,1164.4 L1179,1165.1 L1181.8,1164.7 L1184.7,1164.4 L1187.5,1164.8 L1190.3,1164.7 L1193.2,1164.5 L1196.1,1164.2 L1199,1163.7 L1201.9,1163.4 L1204.8,1163.5 L1207.5,1163.7 L1210.2,1163.6 L1212.8,1163.5 L1215.5,1163.8 L1218.2,1164.1 L1220.9,1164.2 L1223.5,1164.1 L1226.2,1164.1 L1228.9,1164.3 L1231.7,1164.2 L1234.4,1164.2 L1237.2,1164.2 L1239.9,1164.5 L1242.7,1164.3 L1245.4,1164.8 L1248.2,1164.7 L1251,1164.7 L1253.8,1164.4 L1256.7,1163.7 L1259.5,1163.8 L1262.3,1163.6 L1265.1,1163.5 L1267.9,1163.5 L1270.6,1164.6 L1273.4,1164.8 L1276.1,1164.9 L1278.9,1165.4 L1281.6,1165.4 L1284.4,1166 L1286.8,1165 L1289.2,1164.5 L1291.7,1164 L1294.1,1163.2 L1296.5,1162.3 L1298.9,1161 L1301.3,1160.6 L1303.7,1159.9 L1306.1,1158.7 L1308,1157.2 L1310,1155.7 L1311.9,1154 L1313.9,1151.8 L1315.8,1150.3 L1317.4,1148.1 L1319,1146.3 L1320.6,1144.6 L1322.2,1142.1 L1323.8,1140.6 L1325.4,1138.2 L1326.3,1136.1 L1327.2,1133.4 L1328.1,1131.1 L1329.1,1128.9 L1330,1126.4 L1330.9,1123.6 L1331.8,1121.6 L1332.7,1118.9 L1333.3,1115.9 L1333.9,1113.4 L1334.5,1111.1 L1335.1,1108.3 L1335.7,1105.2 L1336.3,1102.5 L1336.9,1100 L1337.5,1097.2 L1337.8,1094.8 L1338,1092 L1338.3,1089.5 L1338.6,1086.6 L1338.8,1084 L1339.1,1081.2 L1339.4,1078.3 L1339.6,1075.6 L1339.9,1073 L1340.9,1069.4 L1341.9,1065.8" fill="none" stroke="#f00" stroke-width="2.2" stroke-linejoin="round"/>
<path d="M786,1145.3 L788.6,1145.5 L791.3,1145.6 L794,1145.6 L796.6,1146.4 L799.2,1145.9 L801.9,1146.5 L804.3,1147.4 L806.7,1148.6 L809.1,1148.9 L811.5,1150.1 L814.3,1149.1 L817.2,1148.1 L820,1147 L822.7,1146.2 L825.4,1146.1 L828.1,1145.9 L830.8,1145.3 L833.7,1146 L836.6,1146.9 L839.5,1147.2 L842.4,1148 L845.3,1148.9 L848,1148.7 L850.7,1149.2 L853.4,1149.7 L856.1,1149.6 L858.9,1149.9 L861.6,1149.7 L864.3,1150.1 L867,1150.1 L869.4,1149 L871.8,1148.3 L874.2,1147.7 L877.2,1148.4 L880.2,1149.1 L883.3,1149.4 L886.3,1150.1 L889.1,1150.3 L891.8,1151 L894.6,1151.5 L897.3,1152 L900.1,1153 L902.8,1153 L905.6,1153.8 L908.5,1154.6 L911.4,1155.1 L914.3,1154.9 L917.2,1155.6 L920.1,1156.2 L922.9,1156 L925.7,1155.4 L928.5,1155.5 L931.4,1155.7 L934.2,1154.9 L937,1155 L939.8,1155.7 L942.6,1155.9 L945.4,1156.9 L948.2,1157.7 L951,1157.8 L953.8,1158.6 L956.5,1158.3 L959.2,1158.4 L961.9,1158.8 L964.6,1158.5 L967.4,1158.6 L970.1,1159 L972.8,1159.4 L975.5,1159.1 L977.9,1160.1 L980.4,1161.2 L982.8,1162.4 L985.2,1163.4 L987.6,1163.8 L990,1164.9 L992.5,1165.3 L994.9,1166.4 L997.3,1167 L1000.1,1167.6 L1002.9,1167 L1005.7,1167.6 L1008.5,1167.9 L1011.3,1167.7 L1014.1,1168.2 L1017,1168.7 L1019.9,1170 L1022.8,1170.8 L1025.7,1170.8 L1028.6,1171.8 L1031.3,1171.8 L1034,1171.9 L1036.7,1171.1 L1039.4,1171.3 L1042.2,1170.7 L1044.9,1170.8 L1047.6,1170.9 L1050.3,1170.6 L1053.2,1170.9 L1056.2,1171.3 L1059.1,1171 L1062.1,1171.4 L1065,1171.8 L1067.7,1171.8 L1070.5,1171.2 L1073.2,1170.8 L1075.9,1170.5 L1078.6,1170.6 L1081.4,1170 L1084.1,1169.6 L1086.9,1169.6 L1089.7,1170.6 L1092.5,1170.7 L1095.4,1171.1 L1098.2,1171.4 L1101,1172 L1103.8,1171.8 L1106.5,1171.5 L1109.3,1171.2 L1112,1171.4 L1114.8,1170.8 L1117.5,1171.2 L1120.3,1170.8 L1123.1,1170.2 L1125.8,1170.7 L1128.6,1170.5 L1131.3,1170.1 L1134.1,1170.1 L1136.8,1169.6 L1139.6,1169.6 L1142.6,1170.4 L1145.7,1170.7 L1148.7,1171.2 L1151.7,1172 L1154.5,1172 L1157.3,1171.1 L1160.2,1170.7 L1163,1170.7 L1165.8,1169.9 L1168.6,1169.6 L1171.4,1169.5 L1174.2,1168.9 L1177,1169.3 L1179.9,1168.6 L1182.7,1168.2 L1185.5,1168.4 L1188.3,1168.3 L1191,1167.1 L1193.8,1167.2 L1196.5,1166.7 L1199.3,1165.8 L1202,1164.8 L1204.8,1164.7 L1207.7,1164.7 L1210.6,1165.3 L1213.5,1165.8 L1216.4,1166.4 L1219.3,1166.7 L1222.2,1166.3 L1225.1,1165 L1227.9,1164.1 L1230.8,1163.6 L1233.7,1162.8 L1236.5,1162.7 L1239.2,1162.9 L1242,1163.5 L1244.7,1163.8 L1247.5,1163.5 L1250.2,1164 L1253,1164.3 L1255.8,1163.9 L1258.6,1163.4 L1261.5,1162.6 L1264.3,1162.5 L1267.1,1161.4 L1269.9,1161.1 L1272.7,1160.9 L1275.5,1160.5 L1278.3,1160.2 L1281.2,1159.5 L1284,1158.8 L1286.8,1158.7 L1289.2,1156.9 L1291.6,1155.9 L1294,1154.2 L1296.5,1153.2 L1298.9,1151.4 L1301.3,1150.3 L1303.7,1148.7 L1306.2,1146.4 L1308.6,1144.4 L1311,1143 L1312.8,1140.9 L1314.6,1139.4 L1316.4,1137.6 L1318.2,1135.8 L1319.2,1133.3 L1320.2,1130.7 L1321.2,1128.5 L1322.2,1126.5 L1323.2,1123.7 L1324.2,1121.3 L1324.9,1118.9 L1325.6,1115.4 L1326.3,1113.4 L1327,1110.6 L1327.7,1107.5 L1328.4,1104.8 L1329.1,1102 L1329.5,1099.4 L1330,1097.1 L1330.4,1093.7 L1330.8,1091.6 L1331.3,1088.9 L1331.7,1086 L1332.2,1083.7 L1332.6,1081.1 L1333,1078 L1333.5,1075.8 L1333.9,1073 L1334.2,1070.3 L1334.4,1067.6 L1334.7,1065.1 L1335,1061.9 L1335.2,1059.7 L1335.5,1056.8 L1335.8,1054.6 L1336,1051.4 L1336.3,1048.9 L1336.4,1046.5 L1336.6,1043.7 L1336.7,1041 L1336.8,1038.5 L1337,1035.1 L1337.1,1032.9 L1337.2,1030.2 L1337.4,1027.6 L1337.5,1024.8 L1337.7,1022.1 L1337.8,1019.3 L1338,1016.8 L1338.2,1014.5 L1338.4,1011.6 L1338.5,1008.9 L1338.7,1006.6 L1338.9,1004.1 L1339,1001.6 L1339.2,998.6 L1339.4,996.6 L1339.6,993.6 L1339.7,991.4 L1339.9,988.6 L1340,985.6 L1340.1,983.8 L1340.1,981 L1340.2,978.7 L1340.3,976.1 L1340.4,973.4 L1340.5,970.3 L1340.5,967.9 L1340.6,965.2 L1340.7,963.1 L1340.8,960 L1340.9,957.5 L1340.9,954.8 L1341,952.3 L1341.1,950" fill="none" stroke="#000" stroke-width="2.2" stroke-linejoin="round"/>
<rect x="809" y="871" width="135" height="38" rx="1.5" fill="#fff" stroke="#000" stroke-width="2.2"/>
<path d="M814.6,878.1 H841.6" stroke="#000" stroke-width="2.2"/>
<path d="M814.6,890.4 H841.6" stroke="#f00" stroke-width="2.2"/>
<path d="M814.6,903.5 H841.6" stroke="#22f" stroke-width="2.2"/>
<text x="846.7" y="881" font-size="5" fill="#777" textLength="52.8" lengthAdjust="spacingAndGlyphs">PP as received</text>
<text x="845.8" y="892.5" font-size="5" fill="#777" textLength="86.9" lengthAdjust="spacingAndGlyphs">PP after 7 days exposure</text>
<text x="845.8" y="905.5" font-size="5" fill="#777" textLength="90.3" lengthAdjust="spacingAndGlyphs">PP after 16 days exposure</text>
</svg>
</body></html>
